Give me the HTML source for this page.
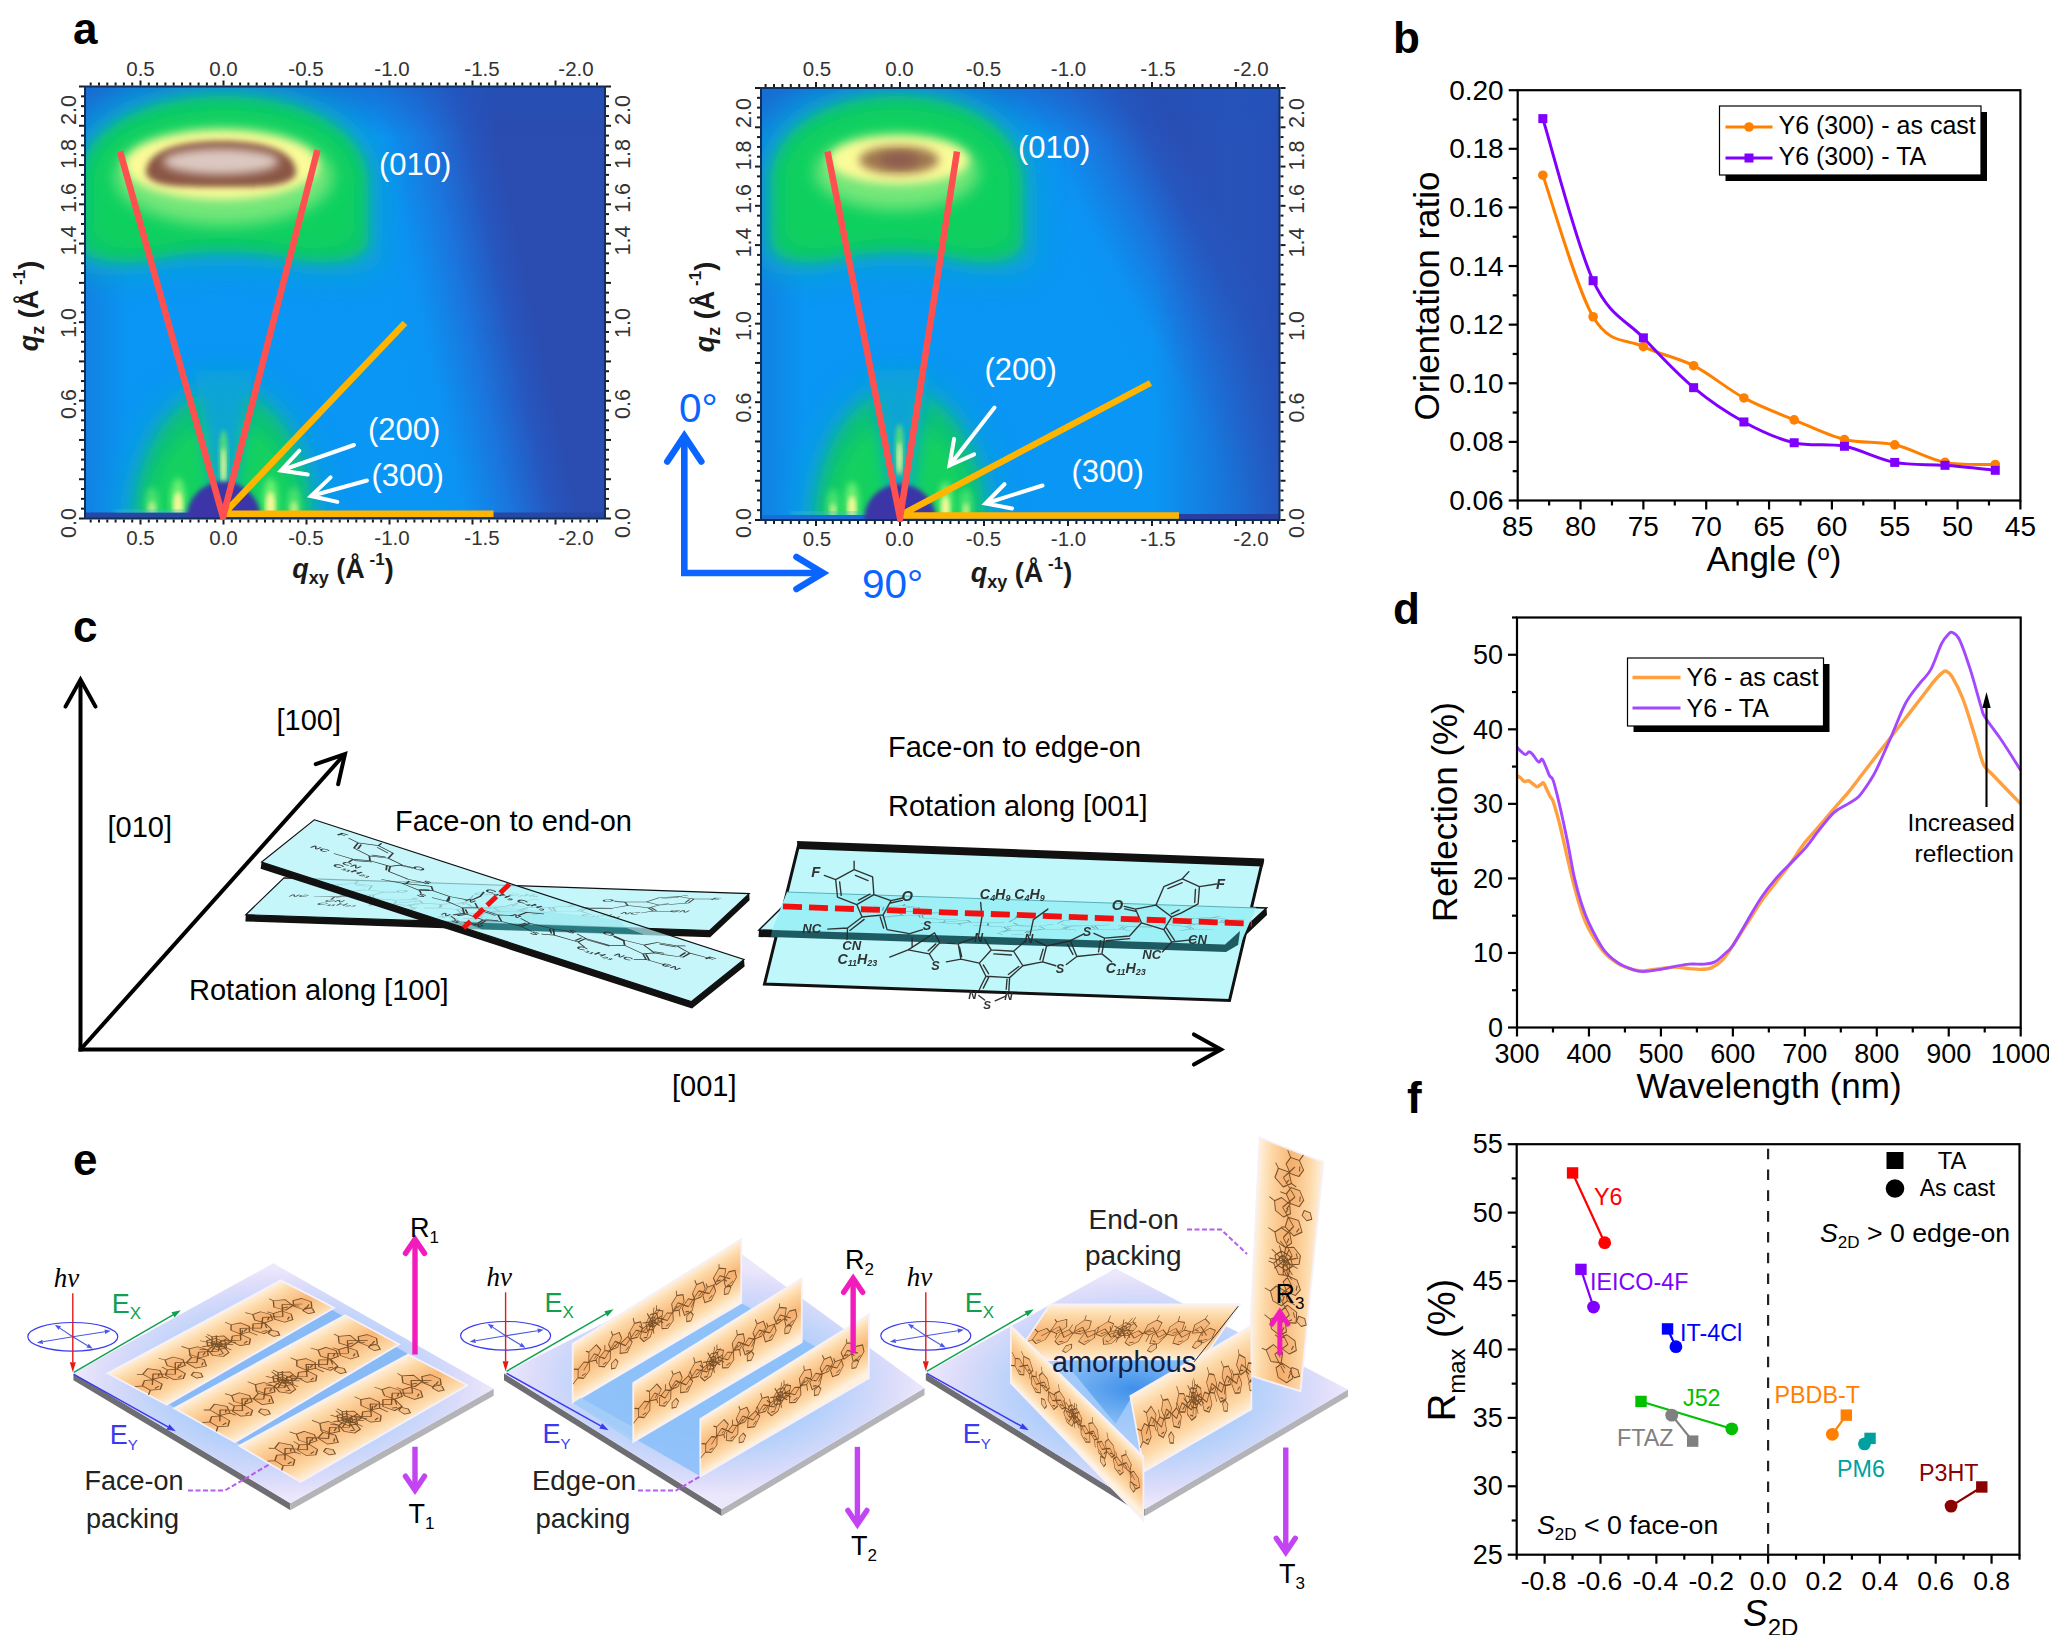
<!DOCTYPE html>
<html lang="en"><head><meta charset="utf-8"><title>Figure</title>
<style>
html,body{margin:0;padding:0;background:#fff;}
svg{display:block;font-family:"Liberation Sans", sans-serif;}
</style></head><body>
<svg width="2049" height="1635" viewBox="0 0 2049 1635">
<rect width="2049" height="1635" fill="#fff"/>
<g id="panel-a">
<defs>
<filter id="b2" x="-20%" y="-20%" width="140%" height="140%"><feGaussianBlur stdDeviation="2"/></filter>
<filter id="b3" x="-30%" y="-30%" width="160%" height="160%"><feGaussianBlur stdDeviation="3.2"/></filter>
<filter id="b5" x="-30%" y="-30%" width="160%" height="160%"><feGaussianBlur stdDeviation="5"/></filter>
<filter id="b6" x="-30%" y="-30%" width="160%" height="160%"><feGaussianBlur stdDeviation="6.5"/></filter>
<filter id="b8" x="-30%" y="-30%" width="160%" height="160%"><feGaussianBlur stdDeviation="8"/></filter>
<filter id="b14" x="-40%" y="-40%" width="180%" height="180%"><feGaussianBlur stdDeviation="14"/></filter>
<filter id="b22" x="-50%" y="-50%" width="200%" height="200%"><feGaussianBlur stdDeviation="22"/></filter>
<filter id="b40" x="-60%" y="-60%" width="220%" height="220%"><feGaussianBlur stdDeviation="40"/></filter>
<linearGradient id="hmL" x1="0" x2="1" y1="0" y2="0">
<stop offset="0" stop-color="#1a70d4"/><stop offset="0.06" stop-color="#1384e6"/><stop offset="0.16" stop-color="#0a94f2"/>
<stop offset="0.5" stop-color="#0a96f4"/><stop offset="0.62" stop-color="#168ae8"/><stop offset="0.75" stop-color="#2270d2"/>
<stop offset="0.88" stop-color="#2a52b6"/><stop offset="1" stop-color="#2c46aa"/></linearGradient>
<linearGradient id="hmR" x1="0" x2="1" y1="0" y2="0">
<stop offset="0" stop-color="#1a70d4"/><stop offset="0.06" stop-color="#1384e6"/><stop offset="0.16" stop-color="#0a94f2"/>
<stop offset="0.5" stop-color="#0a96f4"/><stop offset="0.64" stop-color="#168ae8"/><stop offset="0.78" stop-color="#2270d2"/>
<stop offset="0.9" stop-color="#2a52b6"/><stop offset="1" stop-color="#2c46aa"/></linearGradient>
<linearGradient id="topdark" x1="0" x2="0" y1="0" y2="1">
<stop offset="0" stop-color="#2054bc" stop-opacity="0.5"/><stop offset="1" stop-color="#2050b8" stop-opacity="0"/></linearGradient>
</defs>
<linearGradient id="hmg1" gradientUnits="userSpaceOnUse" x1="394.6" y1="318" x2="531.4" y2="288"><stop offset="0" stop-color="#0a96f4"/><stop offset="0.2" stop-color="#0c92f2"/><stop offset="0.5" stop-color="#1a76de"/><stop offset="0.8" stop-color="#2656be"/><stop offset="1" stop-color="#2b4cb0"/></linearGradient>
<linearGradient id="hml1" gradientUnits="userSpaceOnUse" x1="85" y1="0" x2="130" y2="0"><stop offset="0" stop-color="#1c68cc" stop-opacity="0.45"/><stop offset="1" stop-color="#1c68cc" stop-opacity="0"/></linearGradient>
<clipPath id="hmclip1"><rect x="85" y="86.5" width="520" height="432"/></clipPath>
<g clip-path="url(#hmclip1)">
<rect x="85" y="86.5" width="520" height="432" fill="url(#hmg1)"/>
<rect x="85" y="86.5" width="60" height="432" fill="url(#hml1)"/>
<rect x="85" y="86.5" width="520" height="50" fill="url(#topdark)"/>
<path d="M66,268 L66,182.88 C66,124.37 132.36,82 224,82 C315.64,82 382,124.37 382,182.88 L382,254 C382,272 356.72,276 331.44,276 C299.84,276 287.2,266 224,266 C160.8,266 148.16,276 116.56,276 C91.28,276 66,272 66,254Z" fill="#08a6cc" opacity="0.9" filter="url(#b14)"/>
<path d="M80,254 L80,182.32 C80,132.25 140.48,96 224,96 C307.52,96 368,132.25 368,182.32 L368,240 C368,258 344.96,262 321.92,262 C293.12,262 281.6,252 224,252 C166.4,252 154.88,262 126.08,262 C103.04,262 80,258 80,240Z" fill="#0cc86a" opacity="1" filter="url(#b6)"/>
<path d="M94,240 L94,181.76 C94,140.14 148.6,110 224,110 C299.4,110 354,140.14 354,181.76 L354,226 C354,244 333.2,248 312.4,248 C286.4,248 276,238 224,238 C172,238 161.6,248 135.6,248 C114.8,248 94,244 94,226Z" fill="#10d05e" opacity="1" filter="url(#b8)"/>
<ellipse cx="224" cy="177" rx="109" ry="48.5" fill="#7ce87c" opacity="0.95" filter="url(#b8)"/>
<ellipse cx="221.5" cy="165" rx="97" ry="34.5" fill="#fbfb98" filter="url(#b5)"/>
<path d="M146,174.35 C144.5,150.2 179.75,141 221,141 C262.25,141 297.5,150.2 296,174.35 C288.5,188.15 258.5,187 221,187 C183.5,187 153.5,188.15 146,174.35Z" fill="#8a5744" filter="url(#b3)"/>
<ellipse cx="221" cy="161.5" rx="58" ry="13" fill="#dcc8c0" filter="url(#b5)"/>
<ellipse cx="223.5" cy="528.5" rx="104" ry="154" fill="#08a6cc" opacity="0.8" filter="url(#b14)"/>
<ellipse cx="223.5" cy="528.5" rx="90" ry="138" fill="#10c470" opacity="0.95" filter="url(#b8)"/>
<ellipse cx="223.5" cy="528.5" rx="76" ry="108" fill="#14d45c" opacity="0.85" filter="url(#b8)"/>
<path d="M193.5,370.5 L253.5,370.5 L233.5,493.5 L213.5,493.5Z" fill="#0aa2dc" opacity="0.92" filter="url(#b8)"/>
<ellipse cx="178" cy="502" rx="7.5" ry="24" fill="#6cf070" opacity="1" filter="url(#b3)"/>
<ellipse cx="178" cy="506" rx="4.5" ry="14" fill="#f6f898" opacity="1" filter="url(#b2)"/>
<ellipse cx="270.5" cy="502" rx="7.5" ry="24" fill="#6cf070" opacity="1" filter="url(#b3)"/>
<ellipse cx="270.5" cy="506" rx="4.5" ry="14" fill="#f6f898" opacity="1" filter="url(#b2)"/>
<ellipse cx="152" cy="506" rx="7" ry="19" fill="#6cf070" opacity="0.6" filter="url(#b3)"/>
<ellipse cx="152" cy="510" rx="4" ry="9" fill="#f6f898" opacity="0.6" filter="url(#b2)"/>
<ellipse cx="294" cy="506" rx="7" ry="19" fill="#6cf070" opacity="0.6" filter="url(#b3)"/>
<ellipse cx="294" cy="510" rx="4" ry="9" fill="#f6f898" opacity="0.6" filter="url(#b2)"/>
<ellipse cx="223.5" cy="458" rx="4.5" ry="28" fill="#58e070" opacity="0.9" filter="url(#b2)"/>
<ellipse cx="223.5" cy="466" rx="2.2" ry="18" fill="#f0f4b0" filter="url(#b2)"/>
<rect x="85" y="512.5" width="520" height="7" fill="#2846a4"/>
<rect x="115" y="510" width="73.5" height="2.5" fill="#40c0d0" opacity="0.8" filter="url(#b2)"/>
<circle cx="223.5" cy="518.5" r="37" fill="#3a36a8" filter="url(#b2)"/>
</g>
<rect x="85" y="86.5" width="520" height="432" fill="none" stroke="#10305c" stroke-width="2"/>
<rect x="89.7" y="82.5" width="2" height="3" fill="#1c1c1c"/>
<rect x="89.7" y="519.5" width="2" height="3" fill="#1c1c1c"/>
<rect x="98" y="82.5" width="2" height="3" fill="#1c1c1c"/>
<rect x="98" y="519.5" width="2" height="3" fill="#1c1c1c"/>
<rect x="106.3" y="82.5" width="2" height="3" fill="#1c1c1c"/>
<rect x="106.3" y="519.5" width="2" height="3" fill="#1c1c1c"/>
<rect x="114.6" y="82.5" width="2" height="3" fill="#1c1c1c"/>
<rect x="114.6" y="519.5" width="2" height="3" fill="#1c1c1c"/>
<rect x="122.9" y="82.5" width="2" height="3" fill="#1c1c1c"/>
<rect x="122.9" y="519.5" width="2" height="3" fill="#1c1c1c"/>
<rect x="131.2" y="82.5" width="2" height="3" fill="#1c1c1c"/>
<rect x="131.2" y="519.5" width="2" height="3" fill="#1c1c1c"/>
<rect x="139.5" y="80.5" width="2" height="5" fill="#1c1c1c"/>
<rect x="139.5" y="519.5" width="2" height="5" fill="#1c1c1c"/>
<rect x="147.8" y="82.5" width="2" height="3" fill="#1c1c1c"/>
<rect x="147.8" y="519.5" width="2" height="3" fill="#1c1c1c"/>
<rect x="156.1" y="82.5" width="2" height="3" fill="#1c1c1c"/>
<rect x="156.1" y="519.5" width="2" height="3" fill="#1c1c1c"/>
<rect x="164.4" y="82.5" width="2" height="3" fill="#1c1c1c"/>
<rect x="164.4" y="519.5" width="2" height="3" fill="#1c1c1c"/>
<rect x="172.7" y="82.5" width="2" height="3" fill="#1c1c1c"/>
<rect x="172.7" y="519.5" width="2" height="3" fill="#1c1c1c"/>
<rect x="181" y="82.5" width="2" height="3" fill="#1c1c1c"/>
<rect x="181" y="519.5" width="2" height="3" fill="#1c1c1c"/>
<rect x="189.3" y="82.5" width="2" height="3" fill="#1c1c1c"/>
<rect x="189.3" y="519.5" width="2" height="3" fill="#1c1c1c"/>
<rect x="197.6" y="82.5" width="2" height="3" fill="#1c1c1c"/>
<rect x="197.6" y="519.5" width="2" height="3" fill="#1c1c1c"/>
<rect x="205.9" y="82.5" width="2" height="3" fill="#1c1c1c"/>
<rect x="205.9" y="519.5" width="2" height="3" fill="#1c1c1c"/>
<rect x="214.2" y="82.5" width="2" height="3" fill="#1c1c1c"/>
<rect x="214.2" y="519.5" width="2" height="3" fill="#1c1c1c"/>
<rect x="222.5" y="80.5" width="2" height="5" fill="#1c1c1c"/>
<rect x="222.5" y="519.5" width="2" height="5" fill="#1c1c1c"/>
<rect x="230.8" y="82.5" width="2" height="3" fill="#1c1c1c"/>
<rect x="230.8" y="519.5" width="2" height="3" fill="#1c1c1c"/>
<rect x="239.1" y="82.5" width="2" height="3" fill="#1c1c1c"/>
<rect x="239.1" y="519.5" width="2" height="3" fill="#1c1c1c"/>
<rect x="247.4" y="82.5" width="2" height="3" fill="#1c1c1c"/>
<rect x="247.4" y="519.5" width="2" height="3" fill="#1c1c1c"/>
<rect x="255.7" y="82.5" width="2" height="3" fill="#1c1c1c"/>
<rect x="255.7" y="519.5" width="2" height="3" fill="#1c1c1c"/>
<rect x="264" y="82.5" width="2" height="3" fill="#1c1c1c"/>
<rect x="264" y="519.5" width="2" height="3" fill="#1c1c1c"/>
<rect x="272.3" y="82.5" width="2" height="3" fill="#1c1c1c"/>
<rect x="272.3" y="519.5" width="2" height="3" fill="#1c1c1c"/>
<rect x="280.6" y="82.5" width="2" height="3" fill="#1c1c1c"/>
<rect x="280.6" y="519.5" width="2" height="3" fill="#1c1c1c"/>
<rect x="288.9" y="82.5" width="2" height="3" fill="#1c1c1c"/>
<rect x="288.9" y="519.5" width="2" height="3" fill="#1c1c1c"/>
<rect x="297.2" y="82.5" width="2" height="3" fill="#1c1c1c"/>
<rect x="297.2" y="519.5" width="2" height="3" fill="#1c1c1c"/>
<rect x="305.5" y="80.5" width="2" height="5" fill="#1c1c1c"/>
<rect x="305.5" y="519.5" width="2" height="5" fill="#1c1c1c"/>
<rect x="313.8" y="82.5" width="2" height="3" fill="#1c1c1c"/>
<rect x="313.8" y="519.5" width="2" height="3" fill="#1c1c1c"/>
<rect x="322.1" y="82.5" width="2" height="3" fill="#1c1c1c"/>
<rect x="322.1" y="519.5" width="2" height="3" fill="#1c1c1c"/>
<rect x="330.4" y="82.5" width="2" height="3" fill="#1c1c1c"/>
<rect x="330.4" y="519.5" width="2" height="3" fill="#1c1c1c"/>
<rect x="338.7" y="82.5" width="2" height="3" fill="#1c1c1c"/>
<rect x="338.7" y="519.5" width="2" height="3" fill="#1c1c1c"/>
<rect x="347" y="82.5" width="2" height="3" fill="#1c1c1c"/>
<rect x="347" y="519.5" width="2" height="3" fill="#1c1c1c"/>
<rect x="355.3" y="82.5" width="2" height="3" fill="#1c1c1c"/>
<rect x="355.3" y="519.5" width="2" height="3" fill="#1c1c1c"/>
<rect x="363.6" y="82.5" width="2" height="3" fill="#1c1c1c"/>
<rect x="363.6" y="519.5" width="2" height="3" fill="#1c1c1c"/>
<rect x="371.9" y="82.5" width="2" height="3" fill="#1c1c1c"/>
<rect x="371.9" y="519.5" width="2" height="3" fill="#1c1c1c"/>
<rect x="380.2" y="82.5" width="2" height="3" fill="#1c1c1c"/>
<rect x="380.2" y="519.5" width="2" height="3" fill="#1c1c1c"/>
<rect x="388.5" y="80.5" width="2" height="5" fill="#1c1c1c"/>
<rect x="388.5" y="519.5" width="2" height="5" fill="#1c1c1c"/>
<rect x="396.8" y="82.5" width="2" height="3" fill="#1c1c1c"/>
<rect x="396.8" y="519.5" width="2" height="3" fill="#1c1c1c"/>
<rect x="405.1" y="82.5" width="2" height="3" fill="#1c1c1c"/>
<rect x="405.1" y="519.5" width="2" height="3" fill="#1c1c1c"/>
<rect x="413.4" y="82.5" width="2" height="3" fill="#1c1c1c"/>
<rect x="413.4" y="519.5" width="2" height="3" fill="#1c1c1c"/>
<rect x="421.7" y="82.5" width="2" height="3" fill="#1c1c1c"/>
<rect x="421.7" y="519.5" width="2" height="3" fill="#1c1c1c"/>
<rect x="430" y="82.5" width="2" height="3" fill="#1c1c1c"/>
<rect x="430" y="519.5" width="2" height="3" fill="#1c1c1c"/>
<rect x="438.3" y="82.5" width="2" height="3" fill="#1c1c1c"/>
<rect x="438.3" y="519.5" width="2" height="3" fill="#1c1c1c"/>
<rect x="446.6" y="82.5" width="2" height="3" fill="#1c1c1c"/>
<rect x="446.6" y="519.5" width="2" height="3" fill="#1c1c1c"/>
<rect x="454.9" y="82.5" width="2" height="3" fill="#1c1c1c"/>
<rect x="454.9" y="519.5" width="2" height="3" fill="#1c1c1c"/>
<rect x="463.2" y="82.5" width="2" height="3" fill="#1c1c1c"/>
<rect x="463.2" y="519.5" width="2" height="3" fill="#1c1c1c"/>
<rect x="471.5" y="80.5" width="2" height="5" fill="#1c1c1c"/>
<rect x="471.5" y="519.5" width="2" height="5" fill="#1c1c1c"/>
<rect x="479.8" y="82.5" width="2" height="3" fill="#1c1c1c"/>
<rect x="479.8" y="519.5" width="2" height="3" fill="#1c1c1c"/>
<rect x="488.1" y="82.5" width="2" height="3" fill="#1c1c1c"/>
<rect x="488.1" y="519.5" width="2" height="3" fill="#1c1c1c"/>
<rect x="496.4" y="82.5" width="2" height="3" fill="#1c1c1c"/>
<rect x="496.4" y="519.5" width="2" height="3" fill="#1c1c1c"/>
<rect x="504.7" y="82.5" width="2" height="3" fill="#1c1c1c"/>
<rect x="504.7" y="519.5" width="2" height="3" fill="#1c1c1c"/>
<rect x="513" y="82.5" width="2" height="3" fill="#1c1c1c"/>
<rect x="513" y="519.5" width="2" height="3" fill="#1c1c1c"/>
<rect x="521.3" y="82.5" width="2" height="3" fill="#1c1c1c"/>
<rect x="521.3" y="519.5" width="2" height="3" fill="#1c1c1c"/>
<rect x="529.6" y="82.5" width="2" height="3" fill="#1c1c1c"/>
<rect x="529.6" y="519.5" width="2" height="3" fill="#1c1c1c"/>
<rect x="537.9" y="82.5" width="2" height="3" fill="#1c1c1c"/>
<rect x="537.9" y="519.5" width="2" height="3" fill="#1c1c1c"/>
<rect x="546.2" y="82.5" width="2" height="3" fill="#1c1c1c"/>
<rect x="546.2" y="519.5" width="2" height="3" fill="#1c1c1c"/>
<rect x="554.5" y="80.5" width="2" height="5" fill="#1c1c1c"/>
<rect x="554.5" y="519.5" width="2" height="5" fill="#1c1c1c"/>
<rect x="562.8" y="82.5" width="2" height="3" fill="#1c1c1c"/>
<rect x="562.8" y="519.5" width="2" height="3" fill="#1c1c1c"/>
<rect x="571.1" y="82.5" width="2" height="3" fill="#1c1c1c"/>
<rect x="571.1" y="519.5" width="2" height="3" fill="#1c1c1c"/>
<rect x="579.4" y="82.5" width="2" height="3" fill="#1c1c1c"/>
<rect x="579.4" y="519.5" width="2" height="3" fill="#1c1c1c"/>
<rect x="587.7" y="82.5" width="2" height="3" fill="#1c1c1c"/>
<rect x="587.7" y="519.5" width="2" height="3" fill="#1c1c1c"/>
<rect x="596" y="82.5" width="2" height="3" fill="#1c1c1c"/>
<rect x="596" y="519.5" width="2" height="3" fill="#1c1c1c"/>
<rect x="79" y="517.5" width="5" height="2" fill="#1c1c1c"/>
<rect x="606" y="517.5" width="5" height="2" fill="#1c1c1c"/>
<rect x="81" y="507.68" width="3" height="2" fill="#1c1c1c"/>
<rect x="606" y="507.68" width="3" height="2" fill="#1c1c1c"/>
<rect x="81" y="497.86" width="3" height="2" fill="#1c1c1c"/>
<rect x="606" y="497.86" width="3" height="2" fill="#1c1c1c"/>
<rect x="81" y="488.05" width="3" height="2" fill="#1c1c1c"/>
<rect x="606" y="488.05" width="3" height="2" fill="#1c1c1c"/>
<rect x="79" y="478.23" width="5" height="2" fill="#1c1c1c"/>
<rect x="606" y="478.23" width="5" height="2" fill="#1c1c1c"/>
<rect x="81" y="468.41" width="3" height="2" fill="#1c1c1c"/>
<rect x="606" y="468.41" width="3" height="2" fill="#1c1c1c"/>
<rect x="81" y="458.59" width="3" height="2" fill="#1c1c1c"/>
<rect x="606" y="458.59" width="3" height="2" fill="#1c1c1c"/>
<rect x="81" y="448.77" width="3" height="2" fill="#1c1c1c"/>
<rect x="606" y="448.77" width="3" height="2" fill="#1c1c1c"/>
<rect x="79" y="438.95" width="5" height="2" fill="#1c1c1c"/>
<rect x="606" y="438.95" width="5" height="2" fill="#1c1c1c"/>
<rect x="81" y="429.14" width="3" height="2" fill="#1c1c1c"/>
<rect x="606" y="429.14" width="3" height="2" fill="#1c1c1c"/>
<rect x="81" y="419.32" width="3" height="2" fill="#1c1c1c"/>
<rect x="606" y="419.32" width="3" height="2" fill="#1c1c1c"/>
<rect x="81" y="409.5" width="3" height="2" fill="#1c1c1c"/>
<rect x="606" y="409.5" width="3" height="2" fill="#1c1c1c"/>
<rect x="79" y="399.68" width="5" height="2" fill="#1c1c1c"/>
<rect x="606" y="399.68" width="5" height="2" fill="#1c1c1c"/>
<rect x="81" y="389.86" width="3" height="2" fill="#1c1c1c"/>
<rect x="606" y="389.86" width="3" height="2" fill="#1c1c1c"/>
<rect x="81" y="380.05" width="3" height="2" fill="#1c1c1c"/>
<rect x="606" y="380.05" width="3" height="2" fill="#1c1c1c"/>
<rect x="81" y="370.23" width="3" height="2" fill="#1c1c1c"/>
<rect x="606" y="370.23" width="3" height="2" fill="#1c1c1c"/>
<rect x="79" y="360.41" width="5" height="2" fill="#1c1c1c"/>
<rect x="606" y="360.41" width="5" height="2" fill="#1c1c1c"/>
<rect x="81" y="350.59" width="3" height="2" fill="#1c1c1c"/>
<rect x="606" y="350.59" width="3" height="2" fill="#1c1c1c"/>
<rect x="81" y="340.77" width="3" height="2" fill="#1c1c1c"/>
<rect x="606" y="340.77" width="3" height="2" fill="#1c1c1c"/>
<rect x="81" y="330.95" width="3" height="2" fill="#1c1c1c"/>
<rect x="606" y="330.95" width="3" height="2" fill="#1c1c1c"/>
<rect x="79" y="321.14" width="5" height="2" fill="#1c1c1c"/>
<rect x="606" y="321.14" width="5" height="2" fill="#1c1c1c"/>
<rect x="81" y="311.32" width="3" height="2" fill="#1c1c1c"/>
<rect x="606" y="311.32" width="3" height="2" fill="#1c1c1c"/>
<rect x="81" y="301.5" width="3" height="2" fill="#1c1c1c"/>
<rect x="606" y="301.5" width="3" height="2" fill="#1c1c1c"/>
<rect x="81" y="291.68" width="3" height="2" fill="#1c1c1c"/>
<rect x="606" y="291.68" width="3" height="2" fill="#1c1c1c"/>
<rect x="79" y="281.86" width="5" height="2" fill="#1c1c1c"/>
<rect x="606" y="281.86" width="5" height="2" fill="#1c1c1c"/>
<rect x="81" y="272.05" width="3" height="2" fill="#1c1c1c"/>
<rect x="606" y="272.05" width="3" height="2" fill="#1c1c1c"/>
<rect x="81" y="262.23" width="3" height="2" fill="#1c1c1c"/>
<rect x="606" y="262.23" width="3" height="2" fill="#1c1c1c"/>
<rect x="81" y="252.41" width="3" height="2" fill="#1c1c1c"/>
<rect x="606" y="252.41" width="3" height="2" fill="#1c1c1c"/>
<rect x="79" y="242.59" width="5" height="2" fill="#1c1c1c"/>
<rect x="606" y="242.59" width="5" height="2" fill="#1c1c1c"/>
<rect x="81" y="232.77" width="3" height="2" fill="#1c1c1c"/>
<rect x="606" y="232.77" width="3" height="2" fill="#1c1c1c"/>
<rect x="81" y="222.95" width="3" height="2" fill="#1c1c1c"/>
<rect x="606" y="222.95" width="3" height="2" fill="#1c1c1c"/>
<rect x="81" y="213.14" width="3" height="2" fill="#1c1c1c"/>
<rect x="606" y="213.14" width="3" height="2" fill="#1c1c1c"/>
<rect x="79" y="203.32" width="5" height="2" fill="#1c1c1c"/>
<rect x="606" y="203.32" width="5" height="2" fill="#1c1c1c"/>
<rect x="81" y="193.5" width="3" height="2" fill="#1c1c1c"/>
<rect x="606" y="193.5" width="3" height="2" fill="#1c1c1c"/>
<rect x="81" y="183.68" width="3" height="2" fill="#1c1c1c"/>
<rect x="606" y="183.68" width="3" height="2" fill="#1c1c1c"/>
<rect x="81" y="173.86" width="3" height="2" fill="#1c1c1c"/>
<rect x="606" y="173.86" width="3" height="2" fill="#1c1c1c"/>
<rect x="79" y="164.05" width="5" height="2" fill="#1c1c1c"/>
<rect x="606" y="164.05" width="5" height="2" fill="#1c1c1c"/>
<rect x="81" y="154.23" width="3" height="2" fill="#1c1c1c"/>
<rect x="606" y="154.23" width="3" height="2" fill="#1c1c1c"/>
<rect x="81" y="144.41" width="3" height="2" fill="#1c1c1c"/>
<rect x="606" y="144.41" width="3" height="2" fill="#1c1c1c"/>
<rect x="81" y="134.59" width="3" height="2" fill="#1c1c1c"/>
<rect x="606" y="134.59" width="3" height="2" fill="#1c1c1c"/>
<rect x="79" y="124.77" width="5" height="2" fill="#1c1c1c"/>
<rect x="606" y="124.77" width="5" height="2" fill="#1c1c1c"/>
<rect x="81" y="114.95" width="3" height="2" fill="#1c1c1c"/>
<rect x="606" y="114.95" width="3" height="2" fill="#1c1c1c"/>
<rect x="81" y="105.14" width="3" height="2" fill="#1c1c1c"/>
<rect x="606" y="105.14" width="3" height="2" fill="#1c1c1c"/>
<rect x="81" y="95.32" width="3" height="2" fill="#1c1c1c"/>
<rect x="606" y="95.32" width="3" height="2" fill="#1c1c1c"/>
<rect x="79" y="85.5" width="5" height="2" fill="#1c1c1c"/>
<rect x="606" y="85.5" width="5" height="2" fill="#1c1c1c"/>
<text x="140.5" y="76" font-size="20.5" text-anchor="middle" fill="#333">0.5</text>
<text x="140.5" y="545" font-size="20.5" text-anchor="middle" fill="#333">0.5</text>
<text x="223.5" y="76" font-size="20.5" text-anchor="middle" fill="#333">0.0</text>
<text x="223.5" y="545" font-size="20.5" text-anchor="middle" fill="#333">0.0</text>
<text x="306" y="76" font-size="20.5" text-anchor="middle" fill="#333">-0.5</text>
<text x="306" y="545" font-size="20.5" text-anchor="middle" fill="#333">-0.5</text>
<text x="392" y="76" font-size="20.5" text-anchor="middle" fill="#333">-1.0</text>
<text x="392" y="545" font-size="20.5" text-anchor="middle" fill="#333">-1.0</text>
<text x="482" y="76" font-size="20.5" text-anchor="middle" fill="#333">-1.5</text>
<text x="482" y="545" font-size="20.5" text-anchor="middle" fill="#333">-1.5</text>
<text x="576" y="76" font-size="20.5" text-anchor="middle" fill="#333">-2.0</text>
<text x="576" y="545" font-size="20.5" text-anchor="middle" fill="#333">-2.0</text>
<text x="75.5" y="523" font-size="21.5" text-anchor="middle" fill="#333" transform="rotate(-90 75.5 523)">0.0</text>
<text x="630" y="523" font-size="21.5" text-anchor="middle" fill="#333" transform="rotate(-90 630 523)">0.0</text>
<text x="75.5" y="404" font-size="21.5" text-anchor="middle" fill="#333" transform="rotate(-90 75.5 404)">0.6</text>
<text x="630" y="404" font-size="21.5" text-anchor="middle" fill="#333" transform="rotate(-90 630 404)">0.6</text>
<text x="75.5" y="323" font-size="21.5" text-anchor="middle" fill="#333" transform="rotate(-90 75.5 323)">1.0</text>
<text x="630" y="323" font-size="21.5" text-anchor="middle" fill="#333" transform="rotate(-90 630 323)">1.0</text>
<text x="75.5" y="240.5" font-size="21.5" text-anchor="middle" fill="#333" transform="rotate(-90 75.5 240.5)">1.4</text>
<text x="630" y="240.5" font-size="21.5" text-anchor="middle" fill="#333" transform="rotate(-90 630 240.5)">1.4</text>
<text x="75.5" y="198" font-size="21.5" text-anchor="middle" fill="#333" transform="rotate(-90 75.5 198)">1.6</text>
<text x="630" y="198" font-size="21.5" text-anchor="middle" fill="#333" transform="rotate(-90 630 198)">1.6</text>
<text x="75.5" y="154" font-size="21.5" text-anchor="middle" fill="#333" transform="rotate(-90 75.5 154)">1.8</text>
<text x="630" y="154" font-size="21.5" text-anchor="middle" fill="#333" transform="rotate(-90 630 154)">1.8</text>
<text x="75.5" y="110" font-size="21.5" text-anchor="middle" fill="#333" transform="rotate(-90 75.5 110)">2.0</text>
<text x="630" y="110" font-size="21.5" text-anchor="middle" fill="#333" transform="rotate(-90 630 110)">2.0</text>
<text x="38" y="306" font-size="27" text-anchor="middle" fill="#1a1a1a" font-weight="bold" transform="rotate(-90 38 306)"><tspan font-style="italic">q</tspan><tspan dy="6" font-size="18">z</tspan><tspan dy="-6"> (Å</tspan><tspan dy="-13" font-size="17"> -1</tspan><tspan dy="13">)</tspan></text>
<text x="343" y="578" font-size="27" text-anchor="middle" fill="#1a1a1a" font-weight="bold"><tspan font-style="italic">q</tspan><tspan dy="6" font-size="18">xy</tspan><tspan dy="-6"> (Å</tspan><tspan dy="-13" font-size="17"> -1</tspan><tspan dy="13">)</tspan></text>
<linearGradient id="hmg2" gradientUnits="userSpaceOnUse" x1="1097.2" y1="298.6" x2="1229.2" y2="227.2"><stop offset="0" stop-color="#0a96f4"/><stop offset="0.2" stop-color="#0c92f2"/><stop offset="0.5" stop-color="#1a76de"/><stop offset="0.8" stop-color="#2656be"/><stop offset="1" stop-color="#2b4cb0"/></linearGradient>
<linearGradient id="hml2" gradientUnits="userSpaceOnUse" x1="761" y1="0" x2="806" y2="0"><stop offset="0" stop-color="#1c68cc" stop-opacity="0.45"/><stop offset="1" stop-color="#1c68cc" stop-opacity="0"/></linearGradient>
<clipPath id="hmclip2"><rect x="761" y="88" width="518.5" height="432"/></clipPath>
<g clip-path="url(#hmclip2)">
<rect x="761" y="88" width="518.5" height="432" fill="url(#hmg2)"/>
<rect x="761" y="88" width="60" height="432" fill="url(#hml2)"/>
<linearGradient id="hmr2" gradientUnits="userSpaceOnUse" x1="1154.5" y1="0" x2="1279.5" y2="0"><stop offset="0" stop-color="#2458c0" stop-opacity="0"/><stop offset="0.6" stop-color="#2458c0" stop-opacity="0.55"/><stop offset="1" stop-color="#2650b8" stop-opacity="0.85"/></linearGradient>
<rect x="1154.5" y="88" width="125" height="432" fill="url(#hmr2)"/>
<rect x="761" y="88" width="518.5" height="50" fill="url(#topdark)"/>
<path d="M757,268 L757,182.88 C757,124.37 815.8,82 897,82 C978.2,82 1037,124.37 1037,182.88 L1037,254 C1037,272 1014.6,276 992.2,276 C964.2,276 953,266 897,266 C841,266 829.8,276 801.8,276 C779.4,276 757,272 757,254Z" fill="#08a6cc" opacity="0.9" filter="url(#b14)"/>
<path d="M771,254 L771,182.32 C771,132.25 823.92,96 897,96 C970.08,96 1023,132.25 1023,182.32 L1023,240 C1023,258 1002.84,262 982.68,262 C957.48,262 947.4,252 897,252 C846.6,252 836.52,262 811.32,262 C791.16,262 771,258 771,240Z" fill="#0cc86a" opacity="1" filter="url(#b6)"/>
<path d="M785,240 L785,181.76 C785,140.14 832.04,110 897,110 C961.96,110 1009,140.14 1009,181.76 L1009,226 C1009,244 991.08,248 973.16,248 C950.76,248 941.8,238 897,238 C852.2,238 843.24,248 820.84,248 C802.92,248 785,244 785,226Z" fill="#10d05e" opacity="1" filter="url(#b8)"/>
<ellipse cx="897" cy="172" rx="82" ry="38" fill="#7ce87c" opacity="0.95" filter="url(#b8)"/>
<ellipse cx="899" cy="160" rx="70" ry="24" fill="#fbfb98" filter="url(#b5)"/>
<ellipse cx="899" cy="160" rx="40" ry="14" fill="#a07850" filter="url(#b5)"/>
<ellipse cx="899" cy="160" rx="20" ry="7" fill="#8c5a50" filter="url(#b5)"/>
<ellipse cx="900" cy="530" rx="100" ry="156" fill="#08a6cc" opacity="0.8" filter="url(#b14)"/>
<ellipse cx="900" cy="530" rx="86" ry="140" fill="#10c470" opacity="0.95" filter="url(#b8)"/>
<ellipse cx="900" cy="530" rx="72" ry="110" fill="#14d45c" opacity="0.85" filter="url(#b8)"/>
<path d="M870,370 L930,370 L910,495 L890,495Z" fill="#0aa2dc" opacity="0.92" filter="url(#b8)"/>
<ellipse cx="852" cy="504" rx="7" ry="22" fill="#6cf070" opacity="1" filter="url(#b3)"/>
<ellipse cx="852" cy="508" rx="4" ry="12" fill="#f6f898" opacity="1" filter="url(#b2)"/>
<ellipse cx="945.5" cy="504" rx="7" ry="22" fill="#6cf070" opacity="1" filter="url(#b3)"/>
<ellipse cx="945.5" cy="508" rx="4" ry="12" fill="#f6f898" opacity="1" filter="url(#b2)"/>
<ellipse cx="833" cy="507" rx="6.5" ry="18" fill="#6cf070" opacity="0.6" filter="url(#b3)"/>
<ellipse cx="833" cy="511" rx="3.5" ry="8" fill="#f6f898" opacity="0.6" filter="url(#b2)"/>
<ellipse cx="966" cy="507" rx="6.5" ry="18" fill="#6cf070" opacity="0.6" filter="url(#b3)"/>
<ellipse cx="966" cy="511" rx="3.5" ry="8" fill="#f6f898" opacity="0.6" filter="url(#b2)"/>
<ellipse cx="899.5" cy="450" rx="4.5" ry="26" fill="#58e070" opacity="0.9" filter="url(#b2)"/>
<ellipse cx="899.5" cy="458" rx="2.2" ry="16" fill="#f0f4b0" filter="url(#b2)"/>
<rect x="761" y="515" width="518.5" height="6" fill="#1a6cd6"/>
<rect x="1178" y="514" width="101.5" height="7" fill="#2a3ea2"/>
<rect x="791" y="511.5" width="74" height="2.5" fill="#40c0d0" opacity="0.8" filter="url(#b2)"/>
<circle cx="900" cy="520" r="36" fill="#3a36a8" filter="url(#b2)"/>
</g>
<rect x="761" y="88" width="518.5" height="432" fill="none" stroke="#10305c" stroke-width="2"/>
<rect x="764.6" y="84" width="2" height="3" fill="#1c1c1c"/>
<rect x="764.6" y="521" width="2" height="3" fill="#1c1c1c"/>
<rect x="773" y="84" width="2" height="3" fill="#1c1c1c"/>
<rect x="773" y="521" width="2" height="3" fill="#1c1c1c"/>
<rect x="781.4" y="84" width="2" height="3" fill="#1c1c1c"/>
<rect x="781.4" y="521" width="2" height="3" fill="#1c1c1c"/>
<rect x="789.8" y="84" width="2" height="3" fill="#1c1c1c"/>
<rect x="789.8" y="521" width="2" height="3" fill="#1c1c1c"/>
<rect x="798.2" y="84" width="2" height="3" fill="#1c1c1c"/>
<rect x="798.2" y="521" width="2" height="3" fill="#1c1c1c"/>
<rect x="806.6" y="84" width="2" height="3" fill="#1c1c1c"/>
<rect x="806.6" y="521" width="2" height="3" fill="#1c1c1c"/>
<rect x="815" y="82" width="2" height="5" fill="#1c1c1c"/>
<rect x="815" y="521" width="2" height="5" fill="#1c1c1c"/>
<rect x="823.4" y="84" width="2" height="3" fill="#1c1c1c"/>
<rect x="823.4" y="521" width="2" height="3" fill="#1c1c1c"/>
<rect x="831.8" y="84" width="2" height="3" fill="#1c1c1c"/>
<rect x="831.8" y="521" width="2" height="3" fill="#1c1c1c"/>
<rect x="840.2" y="84" width="2" height="3" fill="#1c1c1c"/>
<rect x="840.2" y="521" width="2" height="3" fill="#1c1c1c"/>
<rect x="848.6" y="84" width="2" height="3" fill="#1c1c1c"/>
<rect x="848.6" y="521" width="2" height="3" fill="#1c1c1c"/>
<rect x="857" y="84" width="2" height="3" fill="#1c1c1c"/>
<rect x="857" y="521" width="2" height="3" fill="#1c1c1c"/>
<rect x="865.4" y="84" width="2" height="3" fill="#1c1c1c"/>
<rect x="865.4" y="521" width="2" height="3" fill="#1c1c1c"/>
<rect x="873.8" y="84" width="2" height="3" fill="#1c1c1c"/>
<rect x="873.8" y="521" width="2" height="3" fill="#1c1c1c"/>
<rect x="882.2" y="84" width="2" height="3" fill="#1c1c1c"/>
<rect x="882.2" y="521" width="2" height="3" fill="#1c1c1c"/>
<rect x="890.6" y="84" width="2" height="3" fill="#1c1c1c"/>
<rect x="890.6" y="521" width="2" height="3" fill="#1c1c1c"/>
<rect x="899" y="82" width="2" height="5" fill="#1c1c1c"/>
<rect x="899" y="521" width="2" height="5" fill="#1c1c1c"/>
<rect x="907.4" y="84" width="2" height="3" fill="#1c1c1c"/>
<rect x="907.4" y="521" width="2" height="3" fill="#1c1c1c"/>
<rect x="915.8" y="84" width="2" height="3" fill="#1c1c1c"/>
<rect x="915.8" y="521" width="2" height="3" fill="#1c1c1c"/>
<rect x="924.2" y="84" width="2" height="3" fill="#1c1c1c"/>
<rect x="924.2" y="521" width="2" height="3" fill="#1c1c1c"/>
<rect x="932.6" y="84" width="2" height="3" fill="#1c1c1c"/>
<rect x="932.6" y="521" width="2" height="3" fill="#1c1c1c"/>
<rect x="941" y="84" width="2" height="3" fill="#1c1c1c"/>
<rect x="941" y="521" width="2" height="3" fill="#1c1c1c"/>
<rect x="949.4" y="84" width="2" height="3" fill="#1c1c1c"/>
<rect x="949.4" y="521" width="2" height="3" fill="#1c1c1c"/>
<rect x="957.8" y="84" width="2" height="3" fill="#1c1c1c"/>
<rect x="957.8" y="521" width="2" height="3" fill="#1c1c1c"/>
<rect x="966.2" y="84" width="2" height="3" fill="#1c1c1c"/>
<rect x="966.2" y="521" width="2" height="3" fill="#1c1c1c"/>
<rect x="974.6" y="84" width="2" height="3" fill="#1c1c1c"/>
<rect x="974.6" y="521" width="2" height="3" fill="#1c1c1c"/>
<rect x="983" y="82" width="2" height="5" fill="#1c1c1c"/>
<rect x="983" y="521" width="2" height="5" fill="#1c1c1c"/>
<rect x="991.4" y="84" width="2" height="3" fill="#1c1c1c"/>
<rect x="991.4" y="521" width="2" height="3" fill="#1c1c1c"/>
<rect x="999.8" y="84" width="2" height="3" fill="#1c1c1c"/>
<rect x="999.8" y="521" width="2" height="3" fill="#1c1c1c"/>
<rect x="1008.2" y="84" width="2" height="3" fill="#1c1c1c"/>
<rect x="1008.2" y="521" width="2" height="3" fill="#1c1c1c"/>
<rect x="1016.6" y="84" width="2" height="3" fill="#1c1c1c"/>
<rect x="1016.6" y="521" width="2" height="3" fill="#1c1c1c"/>
<rect x="1025" y="84" width="2" height="3" fill="#1c1c1c"/>
<rect x="1025" y="521" width="2" height="3" fill="#1c1c1c"/>
<rect x="1033.4" y="84" width="2" height="3" fill="#1c1c1c"/>
<rect x="1033.4" y="521" width="2" height="3" fill="#1c1c1c"/>
<rect x="1041.8" y="84" width="2" height="3" fill="#1c1c1c"/>
<rect x="1041.8" y="521" width="2" height="3" fill="#1c1c1c"/>
<rect x="1050.2" y="84" width="2" height="3" fill="#1c1c1c"/>
<rect x="1050.2" y="521" width="2" height="3" fill="#1c1c1c"/>
<rect x="1058.6" y="84" width="2" height="3" fill="#1c1c1c"/>
<rect x="1058.6" y="521" width="2" height="3" fill="#1c1c1c"/>
<rect x="1067" y="82" width="2" height="5" fill="#1c1c1c"/>
<rect x="1067" y="521" width="2" height="5" fill="#1c1c1c"/>
<rect x="1075.4" y="84" width="2" height="3" fill="#1c1c1c"/>
<rect x="1075.4" y="521" width="2" height="3" fill="#1c1c1c"/>
<rect x="1083.8" y="84" width="2" height="3" fill="#1c1c1c"/>
<rect x="1083.8" y="521" width="2" height="3" fill="#1c1c1c"/>
<rect x="1092.2" y="84" width="2" height="3" fill="#1c1c1c"/>
<rect x="1092.2" y="521" width="2" height="3" fill="#1c1c1c"/>
<rect x="1100.6" y="84" width="2" height="3" fill="#1c1c1c"/>
<rect x="1100.6" y="521" width="2" height="3" fill="#1c1c1c"/>
<rect x="1109" y="84" width="2" height="3" fill="#1c1c1c"/>
<rect x="1109" y="521" width="2" height="3" fill="#1c1c1c"/>
<rect x="1117.4" y="84" width="2" height="3" fill="#1c1c1c"/>
<rect x="1117.4" y="521" width="2" height="3" fill="#1c1c1c"/>
<rect x="1125.8" y="84" width="2" height="3" fill="#1c1c1c"/>
<rect x="1125.8" y="521" width="2" height="3" fill="#1c1c1c"/>
<rect x="1134.2" y="84" width="2" height="3" fill="#1c1c1c"/>
<rect x="1134.2" y="521" width="2" height="3" fill="#1c1c1c"/>
<rect x="1142.6" y="84" width="2" height="3" fill="#1c1c1c"/>
<rect x="1142.6" y="521" width="2" height="3" fill="#1c1c1c"/>
<rect x="1151" y="82" width="2" height="5" fill="#1c1c1c"/>
<rect x="1151" y="521" width="2" height="5" fill="#1c1c1c"/>
<rect x="1159.4" y="84" width="2" height="3" fill="#1c1c1c"/>
<rect x="1159.4" y="521" width="2" height="3" fill="#1c1c1c"/>
<rect x="1167.8" y="84" width="2" height="3" fill="#1c1c1c"/>
<rect x="1167.8" y="521" width="2" height="3" fill="#1c1c1c"/>
<rect x="1176.2" y="84" width="2" height="3" fill="#1c1c1c"/>
<rect x="1176.2" y="521" width="2" height="3" fill="#1c1c1c"/>
<rect x="1184.6" y="84" width="2" height="3" fill="#1c1c1c"/>
<rect x="1184.6" y="521" width="2" height="3" fill="#1c1c1c"/>
<rect x="1193" y="84" width="2" height="3" fill="#1c1c1c"/>
<rect x="1193" y="521" width="2" height="3" fill="#1c1c1c"/>
<rect x="1201.4" y="84" width="2" height="3" fill="#1c1c1c"/>
<rect x="1201.4" y="521" width="2" height="3" fill="#1c1c1c"/>
<rect x="1209.8" y="84" width="2" height="3" fill="#1c1c1c"/>
<rect x="1209.8" y="521" width="2" height="3" fill="#1c1c1c"/>
<rect x="1218.2" y="84" width="2" height="3" fill="#1c1c1c"/>
<rect x="1218.2" y="521" width="2" height="3" fill="#1c1c1c"/>
<rect x="1226.6" y="84" width="2" height="3" fill="#1c1c1c"/>
<rect x="1226.6" y="521" width="2" height="3" fill="#1c1c1c"/>
<rect x="1235" y="82" width="2" height="5" fill="#1c1c1c"/>
<rect x="1235" y="521" width="2" height="5" fill="#1c1c1c"/>
<rect x="1243.4" y="84" width="2" height="3" fill="#1c1c1c"/>
<rect x="1243.4" y="521" width="2" height="3" fill="#1c1c1c"/>
<rect x="1251.8" y="84" width="2" height="3" fill="#1c1c1c"/>
<rect x="1251.8" y="521" width="2" height="3" fill="#1c1c1c"/>
<rect x="1260.2" y="84" width="2" height="3" fill="#1c1c1c"/>
<rect x="1260.2" y="521" width="2" height="3" fill="#1c1c1c"/>
<rect x="1268.6" y="84" width="2" height="3" fill="#1c1c1c"/>
<rect x="1268.6" y="521" width="2" height="3" fill="#1c1c1c"/>
<rect x="1277" y="84" width="2" height="3" fill="#1c1c1c"/>
<rect x="1277" y="521" width="2" height="3" fill="#1c1c1c"/>
<rect x="755" y="519" width="5" height="2" fill="#1c1c1c"/>
<rect x="1280.5" y="519" width="5" height="2" fill="#1c1c1c"/>
<rect x="757" y="509.18" width="3" height="2" fill="#1c1c1c"/>
<rect x="1280.5" y="509.18" width="3" height="2" fill="#1c1c1c"/>
<rect x="757" y="499.36" width="3" height="2" fill="#1c1c1c"/>
<rect x="1280.5" y="499.36" width="3" height="2" fill="#1c1c1c"/>
<rect x="757" y="489.55" width="3" height="2" fill="#1c1c1c"/>
<rect x="1280.5" y="489.55" width="3" height="2" fill="#1c1c1c"/>
<rect x="755" y="479.73" width="5" height="2" fill="#1c1c1c"/>
<rect x="1280.5" y="479.73" width="5" height="2" fill="#1c1c1c"/>
<rect x="757" y="469.91" width="3" height="2" fill="#1c1c1c"/>
<rect x="1280.5" y="469.91" width="3" height="2" fill="#1c1c1c"/>
<rect x="757" y="460.09" width="3" height="2" fill="#1c1c1c"/>
<rect x="1280.5" y="460.09" width="3" height="2" fill="#1c1c1c"/>
<rect x="757" y="450.27" width="3" height="2" fill="#1c1c1c"/>
<rect x="1280.5" y="450.27" width="3" height="2" fill="#1c1c1c"/>
<rect x="755" y="440.45" width="5" height="2" fill="#1c1c1c"/>
<rect x="1280.5" y="440.45" width="5" height="2" fill="#1c1c1c"/>
<rect x="757" y="430.64" width="3" height="2" fill="#1c1c1c"/>
<rect x="1280.5" y="430.64" width="3" height="2" fill="#1c1c1c"/>
<rect x="757" y="420.82" width="3" height="2" fill="#1c1c1c"/>
<rect x="1280.5" y="420.82" width="3" height="2" fill="#1c1c1c"/>
<rect x="757" y="411" width="3" height="2" fill="#1c1c1c"/>
<rect x="1280.5" y="411" width="3" height="2" fill="#1c1c1c"/>
<rect x="755" y="401.18" width="5" height="2" fill="#1c1c1c"/>
<rect x="1280.5" y="401.18" width="5" height="2" fill="#1c1c1c"/>
<rect x="757" y="391.36" width="3" height="2" fill="#1c1c1c"/>
<rect x="1280.5" y="391.36" width="3" height="2" fill="#1c1c1c"/>
<rect x="757" y="381.55" width="3" height="2" fill="#1c1c1c"/>
<rect x="1280.5" y="381.55" width="3" height="2" fill="#1c1c1c"/>
<rect x="757" y="371.73" width="3" height="2" fill="#1c1c1c"/>
<rect x="1280.5" y="371.73" width="3" height="2" fill="#1c1c1c"/>
<rect x="755" y="361.91" width="5" height="2" fill="#1c1c1c"/>
<rect x="1280.5" y="361.91" width="5" height="2" fill="#1c1c1c"/>
<rect x="757" y="352.09" width="3" height="2" fill="#1c1c1c"/>
<rect x="1280.5" y="352.09" width="3" height="2" fill="#1c1c1c"/>
<rect x="757" y="342.27" width="3" height="2" fill="#1c1c1c"/>
<rect x="1280.5" y="342.27" width="3" height="2" fill="#1c1c1c"/>
<rect x="757" y="332.45" width="3" height="2" fill="#1c1c1c"/>
<rect x="1280.5" y="332.45" width="3" height="2" fill="#1c1c1c"/>
<rect x="755" y="322.64" width="5" height="2" fill="#1c1c1c"/>
<rect x="1280.5" y="322.64" width="5" height="2" fill="#1c1c1c"/>
<rect x="757" y="312.82" width="3" height="2" fill="#1c1c1c"/>
<rect x="1280.5" y="312.82" width="3" height="2" fill="#1c1c1c"/>
<rect x="757" y="303" width="3" height="2" fill="#1c1c1c"/>
<rect x="1280.5" y="303" width="3" height="2" fill="#1c1c1c"/>
<rect x="757" y="293.18" width="3" height="2" fill="#1c1c1c"/>
<rect x="1280.5" y="293.18" width="3" height="2" fill="#1c1c1c"/>
<rect x="755" y="283.36" width="5" height="2" fill="#1c1c1c"/>
<rect x="1280.5" y="283.36" width="5" height="2" fill="#1c1c1c"/>
<rect x="757" y="273.55" width="3" height="2" fill="#1c1c1c"/>
<rect x="1280.5" y="273.55" width="3" height="2" fill="#1c1c1c"/>
<rect x="757" y="263.73" width="3" height="2" fill="#1c1c1c"/>
<rect x="1280.5" y="263.73" width="3" height="2" fill="#1c1c1c"/>
<rect x="757" y="253.91" width="3" height="2" fill="#1c1c1c"/>
<rect x="1280.5" y="253.91" width="3" height="2" fill="#1c1c1c"/>
<rect x="755" y="244.09" width="5" height="2" fill="#1c1c1c"/>
<rect x="1280.5" y="244.09" width="5" height="2" fill="#1c1c1c"/>
<rect x="757" y="234.27" width="3" height="2" fill="#1c1c1c"/>
<rect x="1280.5" y="234.27" width="3" height="2" fill="#1c1c1c"/>
<rect x="757" y="224.45" width="3" height="2" fill="#1c1c1c"/>
<rect x="1280.5" y="224.45" width="3" height="2" fill="#1c1c1c"/>
<rect x="757" y="214.64" width="3" height="2" fill="#1c1c1c"/>
<rect x="1280.5" y="214.64" width="3" height="2" fill="#1c1c1c"/>
<rect x="755" y="204.82" width="5" height="2" fill="#1c1c1c"/>
<rect x="1280.5" y="204.82" width="5" height="2" fill="#1c1c1c"/>
<rect x="757" y="195" width="3" height="2" fill="#1c1c1c"/>
<rect x="1280.5" y="195" width="3" height="2" fill="#1c1c1c"/>
<rect x="757" y="185.18" width="3" height="2" fill="#1c1c1c"/>
<rect x="1280.5" y="185.18" width="3" height="2" fill="#1c1c1c"/>
<rect x="757" y="175.36" width="3" height="2" fill="#1c1c1c"/>
<rect x="1280.5" y="175.36" width="3" height="2" fill="#1c1c1c"/>
<rect x="755" y="165.55" width="5" height="2" fill="#1c1c1c"/>
<rect x="1280.5" y="165.55" width="5" height="2" fill="#1c1c1c"/>
<rect x="757" y="155.73" width="3" height="2" fill="#1c1c1c"/>
<rect x="1280.5" y="155.73" width="3" height="2" fill="#1c1c1c"/>
<rect x="757" y="145.91" width="3" height="2" fill="#1c1c1c"/>
<rect x="1280.5" y="145.91" width="3" height="2" fill="#1c1c1c"/>
<rect x="757" y="136.09" width="3" height="2" fill="#1c1c1c"/>
<rect x="1280.5" y="136.09" width="3" height="2" fill="#1c1c1c"/>
<rect x="755" y="126.27" width="5" height="2" fill="#1c1c1c"/>
<rect x="1280.5" y="126.27" width="5" height="2" fill="#1c1c1c"/>
<rect x="757" y="116.45" width="3" height="2" fill="#1c1c1c"/>
<rect x="1280.5" y="116.45" width="3" height="2" fill="#1c1c1c"/>
<rect x="757" y="106.64" width="3" height="2" fill="#1c1c1c"/>
<rect x="1280.5" y="106.64" width="3" height="2" fill="#1c1c1c"/>
<rect x="757" y="96.82" width="3" height="2" fill="#1c1c1c"/>
<rect x="1280.5" y="96.82" width="3" height="2" fill="#1c1c1c"/>
<rect x="755" y="87" width="5" height="2" fill="#1c1c1c"/>
<rect x="1280.5" y="87" width="5" height="2" fill="#1c1c1c"/>
<text x="817" y="76" font-size="20.5" text-anchor="middle" fill="#333">0.5</text>
<text x="817" y="546" font-size="20.5" text-anchor="middle" fill="#333">0.5</text>
<text x="899.5" y="76" font-size="20.5" text-anchor="middle" fill="#333">0.0</text>
<text x="899.5" y="546" font-size="20.5" text-anchor="middle" fill="#333">0.0</text>
<text x="983.5" y="76" font-size="20.5" text-anchor="middle" fill="#333">-0.5</text>
<text x="983.5" y="546" font-size="20.5" text-anchor="middle" fill="#333">-0.5</text>
<text x="1068.5" y="76" font-size="20.5" text-anchor="middle" fill="#333">-1.0</text>
<text x="1068.5" y="546" font-size="20.5" text-anchor="middle" fill="#333">-1.0</text>
<text x="1158" y="76" font-size="20.5" text-anchor="middle" fill="#333">-1.5</text>
<text x="1158" y="546" font-size="20.5" text-anchor="middle" fill="#333">-1.5</text>
<text x="1251" y="76" font-size="20.5" text-anchor="middle" fill="#333">-2.0</text>
<text x="1251" y="546" font-size="20.5" text-anchor="middle" fill="#333">-2.0</text>
<text x="750.5" y="523" font-size="21.5" text-anchor="middle" fill="#333" transform="rotate(-90 750.5 523)">0.0</text>
<text x="1304" y="523" font-size="21.5" text-anchor="middle" fill="#333" transform="rotate(-90 1304 523)">0.0</text>
<text x="750.5" y="407.5" font-size="21.5" text-anchor="middle" fill="#333" transform="rotate(-90 750.5 407.5)">0.6</text>
<text x="1304" y="407.5" font-size="21.5" text-anchor="middle" fill="#333" transform="rotate(-90 1304 407.5)">0.6</text>
<text x="750.5" y="326" font-size="21.5" text-anchor="middle" fill="#333" transform="rotate(-90 750.5 326)">1.0</text>
<text x="1304" y="326" font-size="21.5" text-anchor="middle" fill="#333" transform="rotate(-90 1304 326)">1.0</text>
<text x="750.5" y="242.5" font-size="21.5" text-anchor="middle" fill="#333" transform="rotate(-90 750.5 242.5)">1.4</text>
<text x="1304" y="242.5" font-size="21.5" text-anchor="middle" fill="#333" transform="rotate(-90 1304 242.5)">1.4</text>
<text x="750.5" y="199" font-size="21.5" text-anchor="middle" fill="#333" transform="rotate(-90 750.5 199)">1.6</text>
<text x="1304" y="199" font-size="21.5" text-anchor="middle" fill="#333" transform="rotate(-90 1304 199)">1.6</text>
<text x="750.5" y="155.5" font-size="21.5" text-anchor="middle" fill="#333" transform="rotate(-90 750.5 155.5)">1.8</text>
<text x="1304" y="155.5" font-size="21.5" text-anchor="middle" fill="#333" transform="rotate(-90 1304 155.5)">1.8</text>
<text x="750.5" y="113" font-size="21.5" text-anchor="middle" fill="#333" transform="rotate(-90 750.5 113)">2.0</text>
<text x="1304" y="113" font-size="21.5" text-anchor="middle" fill="#333" transform="rotate(-90 1304 113)">2.0</text>
<text x="714" y="307" font-size="27" text-anchor="middle" fill="#1a1a1a" font-weight="bold" transform="rotate(-90 714 307)"><tspan font-style="italic">q</tspan><tspan dy="6" font-size="18">z</tspan><tspan dy="-6"> (Å</tspan><tspan dy="-13" font-size="17"> -1</tspan><tspan dy="13">)</tspan></text>
<text x="1021.5" y="582" font-size="27" text-anchor="middle" fill="#1a1a1a" font-weight="bold"><tspan font-style="italic">q</tspan><tspan dy="6" font-size="18">xy</tspan><tspan dy="-6"> (Å</tspan><tspan dy="-13" font-size="17"> -1</tspan><tspan dy="13">)</tspan></text>
<clipPath id="lnclip1"><rect x="85" y="86" width="520" height="434"/></clipPath><clipPath id="lnclip2"><rect x="761" y="88" width="518.5" height="434"/></clipPath>
<g clip-path="url(#lnclip1)">
<path d="M223.5,513.8 L493.5,513.8 M223.5,514 L405,323" stroke="#ffb400" stroke-width="6.5" fill="none" stroke-linejoin="miter"/>
<path d="M120,151.5 L223,517 L317.5,150" stroke="#ff5050" stroke-width="6.5" fill="none" stroke-linejoin="miter" stroke-miterlimit="10"/>
</g><g clip-path="url(#lnclip2)">
<path d="M900,515.5 L1179,515.5 M900,515.5 L1150.5,383" stroke="#ffb400" stroke-width="6.5" fill="none"/>
<path d="M827.5,151.5 L900,518 L957,151.5" stroke="#ff5050" stroke-width="6.5" fill="none" stroke-linejoin="miter" stroke-miterlimit="12"/>
</g>
<path d="M354,445 L281,470.5 M307.69,474.6 L281,470.5 L299.33,450.67" fill="none" stroke="#fff" stroke-width="4" stroke-linecap="round" stroke-linejoin="miter"/>
<path d="M367,480.5 L311,496 M337.36,501.86 L311,496 L330.59,477.42" fill="none" stroke="#fff" stroke-width="4" stroke-linecap="round" stroke-linejoin="miter"/>
<path d="M994.5,407.5 L949.5,465.5 M974.13,454.43 L949.5,465.5 L954.1,438.89" fill="none" stroke="#fff" stroke-width="4" stroke-linecap="round" stroke-linejoin="miter"/>
<path d="M1042.5,485.5 L985.5,503.5 M1012.05,508.41 L985.5,503.5 L1004.42,484.23" fill="none" stroke="#fff" stroke-width="4" stroke-linecap="round" stroke-linejoin="miter"/>
<text x="379" y="175" font-size="31" fill="#fff">(010)</text>
<text x="368" y="440" font-size="31" fill="#fff">(200)</text>
<text x="371.5" y="486" font-size="31" fill="#fff">(300)</text>
<text x="1018" y="157.5" font-size="31" fill="#fff">(010)</text>
<text x="984.5" y="379.5" font-size="31" fill="#fff">(200)</text>
<text x="1071.5" y="481.5" font-size="31" fill="#fff">(300)</text>
<path d="M684.3,438 L684.3,573 L821,573" fill="none" stroke="#0a64ff" stroke-width="6.6" stroke-linejoin="miter"/>
<path d="M667.3,461.5 L684.3,436 L701.3,461.5" fill="none" stroke="#0a64ff" stroke-width="6.6" stroke-linejoin="miter" stroke-linecap="round"/>
<path d="M796.5,557 L823,573 L796.5,589" fill="none" stroke="#0a64ff" stroke-width="6.6" stroke-linejoin="miter" stroke-linecap="round"/>
<text x="679" y="422" font-size="40.5" fill="#0a64ff">0°</text>
<text x="862" y="598" font-size="40.5" fill="#0a64ff">90°</text>
</g>
<g id="panel-c">
<line x1="80.5" y1="1051.5" x2="80.5" y2="681" stroke="#000" stroke-width="4" />
<path d="M95.53,706.61 L80.5,679.5 L65.47,706.61" fill="none" stroke="#000" stroke-width="4" stroke-linejoin="miter" stroke-linecap="round"/>
<line x1="78.5" y1="1049.5" x2="1219" y2="1049.5" stroke="#000" stroke-width="4" />
<path d="M1193.89,1064.53 L1221,1049.5 L1193.89,1034.47" fill="none" stroke="#000" stroke-width="4" stroke-linejoin="miter" stroke-linecap="round"/>
<line x1="80.5" y1="1049.5" x2="343" y2="756" stroke="#000" stroke-width="4" />
<path d="M338.13,784.23 L345,754 L315.72,764.19" fill="none" stroke="#000" stroke-width="4" stroke-linejoin="miter" stroke-linecap="round"/>
<path d="M284,877.8 L749.2,893.6 L709.7,930.5 L245.8,914.7Z" fill="#b0f3f8" fill-opacity="0.75" stroke="#111" stroke-width="1.2"/>
<path d="M245.8,914.7 L709.7,930.5 L749.2,893.6 L749.6,900.2 L710.2,937.3 L245.4,921.4Z" fill="#111"/>
<g transform="matrix(0.2617,0.0089,-0.0637,0.0615,261.5,870.6)" opacity="0.85">
<path d="M395,150 L465,178 L470,245 L405,283 L332,255 L325,188 Z M400,172 L448,192 M455,243 L412,266 M346,248 L340,197 M395,150 L395,118 M325,188 L282,172 M470,245 L535,268 L505,322 L425,330 L405,283 M535,268 L580,258 M533,277 L578,267 M425,330 L370,372 M433,339 L379,381 M370,372 L295,376 M370,372 L368,415 M505,322 L520,378 L600,392 M494,330 L507,372 M600,395 L655,378 M700,390 L720,428 L680,470 L600,455 Z M615,410 L615,445 M705,432 L676,458 M720,428 L790,432 L800,490 L745,500 M680,470 L695,495 M795,445 L803,480 M790,432 L850,410 M890,415 L915,455 L870,505 L800,490 M915,455 L1000,460 L1035,515 L985,560 L895,555 L870,505 Z M925,470 L992,474 M1020,518 L980,548 M885,512 L905,545 M1000,460 L1045,420 M1082,420 L1125,440 L1110,500 L1035,515 M1112,452 L1100,492 M1125,440 L1215,420 L1240,480 L1200,510 M1160,515 L1110,500 M1205,435 L1225,472 M1215,420 L1265,395 M1305,392 L1345,410 L1335,470 L1240,480 M1330,420 L1322,462 M895,555 L870,605 M985,560 L982,610 M868,628 L890,645 M970,630 L930,648 M905,560 L885,600 M975,566 L972,604 M868,398 L880,330 L875,275 M1062,400 L1075,340 L1130,300 M600,455 L530,482 M1335,470 L1372,500 M1345,410 L1440,402 L1485,352 M1352,420 L1440,412 M1485,352 L1462,300 L1540,285 L1600,330 L1570,378 Z M1462,300 L1420,290 M1464,309 L1422,299 M1540,285 L1570,215 L1640,185 L1705,215 L1700,280 L1635,315 L1600,330 M1585,222 L1640,200 M1690,225 L1687,275 M1628,303 L1598,318 M1640,185 L1665,158 M1705,215 L1770,205 M1570,378 L1600,425 M1580,372 L1610,418 M1600,425 L1690,415 M1600,425 L1565,462 " fill="none" stroke="#333" stroke-width="7" stroke-linejoin="round" stroke-linecap="round"/>
<text x="232" y="178" font-size="56" font-weight="bold" font-style="italic" fill="#333">F</text>
<text x="1768" y="222" font-size="56" font-weight="bold" font-style="italic" fill="#333">F</text>
<text x="575" y="268" font-size="56" font-weight="bold" font-style="italic" fill="#333">O</text>
<text x="1372" y="305" font-size="56" font-weight="bold" font-style="italic" fill="#333">O</text>
<text x="198" y="392" font-size="50" font-weight="bold" font-style="italic" fill="#333">NC</text>
<text x="350" y="455" font-size="50" font-weight="bold" font-style="italic" fill="#333">CN</text>
<text x="332" y="508" font-size="54" font-weight="bold" font-style="italic" fill="#333">C<tspan font-size="34" dy="9">11</tspan><tspan dy="-9">H</tspan><tspan font-size="34" dy="9">23</tspan></text>
<text x="655" y="380" font-size="48" font-weight="bold" font-style="italic" fill="#333">S</text>
<text x="688" y="530" font-size="48" font-weight="bold" font-style="italic" fill="#333">S</text>
<text x="850" y="424" font-size="48" font-weight="bold" font-style="italic" fill="#333">N</text>
<text x="1040" y="428" font-size="48" font-weight="bold" font-style="italic" fill="#333">N</text>
<text x="1262" y="402" font-size="48" font-weight="bold" font-style="italic" fill="#333">S</text>
<text x="1160" y="543" font-size="48" font-weight="bold" font-style="italic" fill="#333">S</text>
<text x="828" y="642" font-size="44" font-weight="bold" font-style="italic" fill="#333">N</text>
<text x="965" y="645" font-size="44" font-weight="bold" font-style="italic" fill="#333">N</text>
<text x="885" y="678" font-size="44" font-weight="bold" font-style="italic" fill="#333">S</text>
<text x="872" y="262" font-size="54" font-weight="bold" font-style="italic" fill="#333">C<tspan font-size="34" dy="9">4</tspan><tspan dy="-9">H</tspan><tspan font-size="34" dy="9">9</tspan><tspan dy="-9"> C</tspan><tspan font-size="34" dy="9">4</tspan><tspan dy="-9">H</tspan><tspan font-size="34" dy="9">9</tspan></text>
<text x="1662" y="432" font-size="50" font-weight="bold" font-style="italic" fill="#333">CN</text>
<text x="1488" y="490" font-size="50" font-weight="bold" font-style="italic" fill="#333">NC</text>
<text x="1350" y="542" font-size="54" font-weight="bold" font-style="italic" fill="#333">C<tspan font-size="34" dy="9">11</tspan><tspan dy="-9">H</tspan><tspan font-size="34" dy="9">23</tspan></text>
</g>
<path d="M314.3,819.8 L744,959.5 L691.2,1001.6 L261.6,862Z" fill="#b0f3f8" fill-opacity="0.72" stroke="#111" stroke-width="1.2"/>
<path d="M261.6,862 L691.2,1001.6 L744,959.5 L744.6,966.5 L692,1008.6 L260.6,868.8Z" fill="#111"/>
<path d="M464.5,922.2 L626,927.7 L644,934.6 L482,929.2Z" fill="#2a7a82"/>
<path d="M490,905 L620,920 L626,927.7 L464.5,922.2Z" fill="#7fd8e0" opacity="0.3"/>
<g transform="matrix(0.242,0.0785,-0.087,0.070,295.9,804.2)" opacity="0.92">
<path d="M395,150 L465,178 L470,245 L405,283 L332,255 L325,188 Z M400,172 L448,192 M455,243 L412,266 M346,248 L340,197 M395,150 L395,118 M325,188 L282,172 M470,245 L535,268 L505,322 L425,330 L405,283 M535,268 L580,258 M533,277 L578,267 M425,330 L370,372 M433,339 L379,381 M370,372 L295,376 M370,372 L368,415 M505,322 L520,378 L600,392 M494,330 L507,372 M600,395 L655,378 M700,390 L720,428 L680,470 L600,455 Z M615,410 L615,445 M705,432 L676,458 M720,428 L790,432 L800,490 L745,500 M680,470 L695,495 M795,445 L803,480 M790,432 L850,410 M890,415 L915,455 L870,505 L800,490 M915,455 L1000,460 L1035,515 L985,560 L895,555 L870,505 Z M925,470 L992,474 M1020,518 L980,548 M885,512 L905,545 M1000,460 L1045,420 M1082,420 L1125,440 L1110,500 L1035,515 M1112,452 L1100,492 M1125,440 L1215,420 L1240,480 L1200,510 M1160,515 L1110,500 M1205,435 L1225,472 M1215,420 L1265,395 M1305,392 L1345,410 L1335,470 L1240,480 M1330,420 L1322,462 M895,555 L870,605 M985,560 L982,610 M868,628 L890,645 M970,630 L930,648 M905,560 L885,600 M975,566 L972,604 M868,398 L880,330 L875,275 M1062,400 L1075,340 L1130,300 M600,455 L530,482 M1335,470 L1372,500 M1345,410 L1440,402 L1485,352 M1352,420 L1440,412 M1485,352 L1462,300 L1540,285 L1600,330 L1570,378 Z M1462,300 L1420,290 M1464,309 L1422,299 M1540,285 L1570,215 L1640,185 L1705,215 L1700,280 L1635,315 L1600,330 M1585,222 L1640,200 M1690,225 L1687,275 M1628,303 L1598,318 M1640,185 L1665,158 M1705,215 L1770,205 M1570,378 L1600,425 M1580,372 L1610,418 M1600,425 L1690,415 M1600,425 L1565,462 " fill="none" stroke="#2a2a2a" stroke-width="7" stroke-linejoin="round" stroke-linecap="round"/>
<text x="232" y="178" font-size="56" font-weight="bold" font-style="italic" fill="#2a2a2a">F</text>
<text x="1768" y="222" font-size="56" font-weight="bold" font-style="italic" fill="#2a2a2a">F</text>
<text x="575" y="268" font-size="56" font-weight="bold" font-style="italic" fill="#2a2a2a">O</text>
<text x="1372" y="305" font-size="56" font-weight="bold" font-style="italic" fill="#2a2a2a">O</text>
<text x="198" y="392" font-size="50" font-weight="bold" font-style="italic" fill="#2a2a2a">NC</text>
<text x="350" y="455" font-size="50" font-weight="bold" font-style="italic" fill="#2a2a2a">CN</text>
<text x="332" y="508" font-size="54" font-weight="bold" font-style="italic" fill="#2a2a2a">C<tspan font-size="34" dy="9">11</tspan><tspan dy="-9">H</tspan><tspan font-size="34" dy="9">23</tspan></text>
<text x="655" y="380" font-size="48" font-weight="bold" font-style="italic" fill="#2a2a2a">S</text>
<text x="688" y="530" font-size="48" font-weight="bold" font-style="italic" fill="#2a2a2a">S</text>
<text x="850" y="424" font-size="48" font-weight="bold" font-style="italic" fill="#2a2a2a">N</text>
<text x="1040" y="428" font-size="48" font-weight="bold" font-style="italic" fill="#2a2a2a">N</text>
<text x="1262" y="402" font-size="48" font-weight="bold" font-style="italic" fill="#2a2a2a">S</text>
<text x="1160" y="543" font-size="48" font-weight="bold" font-style="italic" fill="#2a2a2a">S</text>
<text x="828" y="642" font-size="44" font-weight="bold" font-style="italic" fill="#2a2a2a">N</text>
<text x="965" y="645" font-size="44" font-weight="bold" font-style="italic" fill="#2a2a2a">N</text>
<text x="885" y="678" font-size="44" font-weight="bold" font-style="italic" fill="#2a2a2a">S</text>
<text x="872" y="262" font-size="54" font-weight="bold" font-style="italic" fill="#2a2a2a">C<tspan font-size="34" dy="9">4</tspan><tspan dy="-9">H</tspan><tspan font-size="34" dy="9">9</tspan><tspan dy="-9"> C</tspan><tspan font-size="34" dy="9">4</tspan><tspan dy="-9">H</tspan><tspan font-size="34" dy="9">9</tspan></text>
<text x="1662" y="432" font-size="50" font-weight="bold" font-style="italic" fill="#2a2a2a">CN</text>
<text x="1488" y="490" font-size="50" font-weight="bold" font-style="italic" fill="#2a2a2a">NC</text>
<text x="1350" y="542" font-size="54" font-weight="bold" font-style="italic" fill="#2a2a2a">C<tspan font-size="34" dy="9">11</tspan><tspan dy="-9">H</tspan><tspan font-size="34" dy="9">23</tspan></text>
</g>
<path d="M509.5,884 L463.5,928" stroke="#f01010" stroke-width="5" stroke-dasharray="13 5" fill="none"/>
<path d="M797.5,892 L1266.5,908 L1227,944.5 L759,930Z" fill="#c0f7fa" stroke="#111" stroke-width="1.5"/>
<path d="M759,930 L1227,944.5 L1266.5,908 L1267,915 L1228,952 L758.5,937Z" fill="#111"/>
<path d="M799,843.5 L1262.5,861 L1229.5,1000.5 L764.5,984Z" fill="#c0f7fa" stroke="#111" stroke-width="3"/>
<path d="M797,841 L1264,858.5 L1263,866.5 L798,849Z" fill="#111"/>
<path d="M787,892 L1256,908 L1240,944.8 L772,930.5Z" fill="#9cf0f6"/>
<path d="M787,892 L1256,908" stroke="#5ab0b8" stroke-width="1" fill="none"/>
<path d="M772,930 L1225,944.5 L1240,931 L1238,945 L1226,952 L771,937Z" fill="#1e5a62"/>
<g transform="matrix(0.2636,0,0,0.2636,750,830)" opacity="0.95">
<path d="M395,150 L465,178 L470,245 L405,283 L332,255 L325,188 Z M400,172 L448,192 M455,243 L412,266 M346,248 L340,197 M395,150 L395,118 M325,188 L282,172 M470,245 L535,268 L505,322 L425,330 L405,283 M535,268 L580,258 M533,277 L578,267 M425,330 L370,372 M433,339 L379,381 M370,372 L295,376 M370,372 L368,415 M505,322 L520,378 L600,392 M494,330 L507,372 M600,395 L655,378 M700,390 L720,428 L680,470 L600,455 Z M615,410 L615,445 M705,432 L676,458 M720,428 L790,432 L800,490 L745,500 M680,470 L695,495 M795,445 L803,480 M790,432 L850,410 M890,415 L915,455 L870,505 L800,490 M915,455 L1000,460 L1035,515 L985,560 L895,555 L870,505 Z M925,470 L992,474 M1020,518 L980,548 M885,512 L905,545 M1000,460 L1045,420 M1082,420 L1125,440 L1110,500 L1035,515 M1112,452 L1100,492 M1125,440 L1215,420 L1240,480 L1200,510 M1160,515 L1110,500 M1205,435 L1225,472 M1215,420 L1265,395 M1305,392 L1345,410 L1335,470 L1240,480 M1330,420 L1322,462 M895,555 L870,605 M985,560 L982,610 M868,628 L890,645 M970,630 L930,648 M905,560 L885,600 M975,566 L972,604 M868,398 L880,330 L875,275 M1062,400 L1075,340 L1130,300 M600,455 L530,482 M1335,470 L1372,500 M1345,410 L1440,402 L1485,352 M1352,420 L1440,412 M1485,352 L1462,300 L1540,285 L1600,330 L1570,378 Z M1462,300 L1420,290 M1464,309 L1422,299 M1540,285 L1570,215 L1640,185 L1705,215 L1700,280 L1635,315 L1600,330 M1585,222 L1640,200 M1690,225 L1687,275 M1628,303 L1598,318 M1640,185 L1665,158 M1705,215 L1770,205 M1570,378 L1600,425 M1580,372 L1610,418 M1600,425 L1690,415 M1600,425 L1565,462 " fill="none" stroke="#2a2a2a" stroke-width="5.2" stroke-linejoin="round" stroke-linecap="round"/>
<text x="232" y="178" font-size="56" font-weight="bold" font-style="italic" fill="#2a2a2a">F</text>
<text x="1768" y="222" font-size="56" font-weight="bold" font-style="italic" fill="#2a2a2a">F</text>
<text x="575" y="268" font-size="56" font-weight="bold" font-style="italic" fill="#2a2a2a">O</text>
<text x="1372" y="305" font-size="56" font-weight="bold" font-style="italic" fill="#2a2a2a">O</text>
<text x="198" y="392" font-size="50" font-weight="bold" font-style="italic" fill="#2a2a2a">NC</text>
<text x="350" y="455" font-size="50" font-weight="bold" font-style="italic" fill="#2a2a2a">CN</text>
<text x="332" y="508" font-size="54" font-weight="bold" font-style="italic" fill="#2a2a2a">C<tspan font-size="34" dy="9">11</tspan><tspan dy="-9">H</tspan><tspan font-size="34" dy="9">23</tspan></text>
<text x="655" y="380" font-size="48" font-weight="bold" font-style="italic" fill="#2a2a2a">S</text>
<text x="688" y="530" font-size="48" font-weight="bold" font-style="italic" fill="#2a2a2a">S</text>
<text x="850" y="424" font-size="48" font-weight="bold" font-style="italic" fill="#2a2a2a">N</text>
<text x="1040" y="428" font-size="48" font-weight="bold" font-style="italic" fill="#2a2a2a">N</text>
<text x="1262" y="402" font-size="48" font-weight="bold" font-style="italic" fill="#2a2a2a">S</text>
<text x="1160" y="543" font-size="48" font-weight="bold" font-style="italic" fill="#2a2a2a">S</text>
<text x="828" y="642" font-size="44" font-weight="bold" font-style="italic" fill="#2a2a2a">N</text>
<text x="965" y="645" font-size="44" font-weight="bold" font-style="italic" fill="#2a2a2a">N</text>
<text x="885" y="678" font-size="44" font-weight="bold" font-style="italic" fill="#2a2a2a">S</text>
<text x="872" y="262" font-size="54" font-weight="bold" font-style="italic" fill="#2a2a2a">C<tspan font-size="34" dy="9">4</tspan><tspan dy="-9">H</tspan><tspan font-size="34" dy="9">9</tspan><tspan dy="-9"> C</tspan><tspan font-size="34" dy="9">4</tspan><tspan dy="-9">H</tspan><tspan font-size="34" dy="9">9</tspan></text>
<text x="1662" y="432" font-size="50" font-weight="bold" font-style="italic" fill="#2a2a2a">CN</text>
<text x="1488" y="490" font-size="50" font-weight="bold" font-style="italic" fill="#2a2a2a">NC</text>
<text x="1350" y="542" font-size="54" font-weight="bold" font-style="italic" fill="#2a2a2a">C<tspan font-size="34" dy="9">11</tspan><tspan dy="-9">H</tspan><tspan font-size="34" dy="9">23</tspan></text>
</g>
<g transform="matrix(0.25,0.008,-0.05,0.05,812,895)" opacity="0.6">
<path d="M395,150 L465,178 L470,245 L405,283 L332,255 L325,188 Z M400,172 L448,192 M455,243 L412,266 M346,248 L340,197 M395,150 L395,118 M325,188 L282,172 M470,245 L535,268 L505,322 L425,330 L405,283 M535,268 L580,258 M533,277 L578,267 M425,330 L370,372 M433,339 L379,381 M370,372 L295,376 M370,372 L368,415 M505,322 L520,378 L600,392 M494,330 L507,372 M600,395 L655,378 M700,390 L720,428 L680,470 L600,455 Z M615,410 L615,445 M705,432 L676,458 M720,428 L790,432 L800,490 L745,500 M680,470 L695,495 M795,445 L803,480 M790,432 L850,410 M890,415 L915,455 L870,505 L800,490 M915,455 L1000,460 L1035,515 L985,560 L895,555 L870,505 Z M925,470 L992,474 M1020,518 L980,548 M885,512 L905,545 M1000,460 L1045,420 M1082,420 L1125,440 L1110,500 L1035,515 M1112,452 L1100,492 M1125,440 L1215,420 L1240,480 L1200,510 M1160,515 L1110,500 M1205,435 L1225,472 M1215,420 L1265,395 M1305,392 L1345,410 L1335,470 L1240,480 M1330,420 L1322,462 M895,555 L870,605 M985,560 L982,610 M868,628 L890,645 M970,630 L930,648 M905,560 L885,600 M975,566 L972,604 M868,398 L880,330 L875,275 M1062,400 L1075,340 L1130,300 M600,455 L530,482 M1335,470 L1372,500 M1345,410 L1440,402 L1485,352 M1352,420 L1440,412 M1485,352 L1462,300 L1540,285 L1600,330 L1570,378 Z M1462,300 L1420,290 M1464,309 L1422,299 M1540,285 L1570,215 L1640,185 L1705,215 L1700,280 L1635,315 L1600,330 M1585,222 L1640,200 M1690,225 L1687,275 M1628,303 L1598,318 M1640,185 L1665,158 M1705,215 L1770,205 M1570,378 L1600,425 M1580,372 L1610,418 M1600,425 L1690,415 M1600,425 L1565,462 " fill="none" stroke="#3a6a70" stroke-width="5" stroke-linejoin="round" stroke-linecap="round"/>
</g>
<path d="M783,906.4 L1252,923.6" stroke="#f01010" stroke-width="5.8" stroke-dasharray="19 7" fill="none"/>
<text x="276.5" y="730" font-size="29">[100]</text>
<text x="107.5" y="837" font-size="29">[010]</text>
<text x="395" y="830.5" font-size="29">Face-on to end-on</text>
<text x="189" y="1000" font-size="29">Rotation along [100]</text>
<text x="888" y="757" font-size="29">Face-on to edge-on</text>
<text x="888" y="816" font-size="29">Rotation along [001]</text>
<text x="672" y="1095.5" font-size="29">[001]</text>
</g>
<g id="panel-e">
<radialGradient id="sub1" gradientUnits="userSpaceOnUse" cx="283.57" cy="1383.23" r="210.11" gradientTransform="translate(0 622.45) scale(1 0.55)"><stop offset="0" stop-color="#8ec2f8"/><stop offset="0.55" stop-color="#b4d0fa"/><stop offset="0.85" stop-color="#dcdcfa"/><stop offset="1" stop-color="#ece8fc"/></radialGradient>
<path d="M73.45,1373.32 L290.4,1503.14 L290.4,1510.14 L73.45,1380.32Z" fill="#6e6e72"/>
<path d="M290.4,1503.14 L493.68,1388.69 L493.68,1395.69 L290.4,1510.14Z" fill="#b4b4b8"/>
<path d="M73.45,1373.32 L273.32,1263.31 L493.68,1388.69 L290.4,1503.14Z" fill="url(#sub1)"/>
<path d="M150.32,1393.82 L317.73,1301.57 L423.64,1363.07 L259.65,1455.31Z" fill="#86b8f6" opacity="0.95"/>
<linearGradient id="pg1" gradientUnits="userSpaceOnUse" x1="107.62" y1="1373.32" x2="133.92" y2="1422.35"><stop offset="0" stop-color="#fff1de"/><stop offset="0.2" stop-color="#fdd8a6"/><stop offset="0.5" stop-color="#f9b878"/><stop offset="0.8" stop-color="#fdd8a6"/><stop offset="1" stop-color="#fff1de"/></linearGradient>
<path d="M107.62,1373.32 L280.83,1280.39 L334.13,1307.72 L166.72,1404.75Z" fill="url(#pg1)" stroke="#f6f0f8" stroke-width="1.8" opacity="1.0"/>
<clipPath id="pg1c"><path d="M107.62,1373.32 L280.83,1280.39 L334.13,1307.72 L166.72,1404.75Z"/></clipPath>
<g clip-path="url(#pg1c)"><path transform="matrix(0.16802,-0.09014,0.21278,0.11315,139.77,1387.64)" d="M86,37 L51,56 L17,36 L18,-2 L53,-20 L87,-1Z M64,39 L41,39 M17,36 L-14,52 M18,-2 L-8,-16 M156,-28 L128,7 L83,-7 L84,-52 L129,-65Z M137,-17 L117,-5 M84,-52 L65,-65 M128,7 L135,28 M52,18 L116,-29 M214,45 L179,63 L145,44 L146,6 L181,-13 L215,7Z M192,46 L169,47 M181,-13 L181,-39 M215,7 L245,-9 M116,-29 L180,25 M284,-21 L259,9 L219,3 L204,-32 L229,-62 L269,-56Z M263,-12 L242,-2 M229,-62 L220,-85 M180,25 L244,-26 M348,27 L318,62 L274,45 L277,0 L323,-11Z M328,38 L308,49 M323,-11 L330,-28 M244,-26 L308,25 M411,-7 L382,20 L344,10 L333,-27 L362,-54 L400,-43Z M389,-0 L367,7 M362,-54 L354,-83 M308,25 L372,-17 M460,56 L421,60 L396,30 L412,-5 L451,-10 L476,21Z M440,49 L418,41 M412,-5 L392,-29 M451,-10 L462,-33 M372,-17 L436,25 M526,14 L479,17 L461,-24 L497,-53 L537,-29Z M505,9 L483,2 M526,14 L538,28 M497,-53 L496,-75 M436,25 L500,-15 M600,46 L567,67 L531,51 L528,13 L561,-8 L597,8Z M578,49 L555,52 M597,8 L625,-11 M528,13 L503,2 M500,-15 L564,29 M666,-11 L635,14 L597,1 L590,-37 L621,-61 L659,-48Z M644,-6 L621,-1 M621,-61 L617,-86 M635,14 L641,47 M564,29 L628,-24 M716,55 L669,56 L654,14 L691,-13 L730,13Z M695,49 L674,41 M628,-24 L692,25 M795,-13 L770,16 L731,10 L717,-25 L742,-55 L781,-49Z M775,-4 L754,5 M731,10 L708,37 M742,-55 L731,-81 M692,25 L756,-19 M859,33 L832,62 L793,54 L781,17 L808,-11 L847,-3Z M838,41 L817,49 M808,-11 L800,-32 M756,-19 L820,25 M910,-0 L863,4 L845,-37 L880,-67 L921,-44Z M889,-6 L867,-12 M880,-67 L879,-86 M910,-0 L927,18 M820,25 L884,-29 M986,27 L957,53 L919,42 L910,5 L939,-21 L977,-10Z M965,34 L943,40 M884,-29 L948,16 M470,-10 L532,-10 M470,-10 L517,30 M470,-10 L481,51 M470,-10 L439,44 M470,-10 L412,11 M470,-10 L412,-32 M470,-10 L440,-64 M470,-10 L482,-71 M470,-10 L518,-49 M491,-3 L475,11 L454,5 L449,-17 L465,-31 L486,-25Z M508,2 L479,29 L441,17 L432,-22 L461,-49 L499,-37Z M952,60 L937,81 L912,73 L912,47 L937,39Z M722,78 L707,99 L682,91 L682,65 L707,57Z M262,80 L247,101 L222,93 L222,67 L247,59Z" fill="#f0a05c" fill-opacity="0.4" stroke="#6a4520" stroke-width="5" stroke-linejoin="round" opacity="0.9"/></g>
<linearGradient id="pg2" gradientUnits="userSpaceOnUse" x1="174.24" y1="1408.17" x2="202.47" y2="1460.06"><stop offset="0" stop-color="#fff1de"/><stop offset="0.2" stop-color="#fdd8a6"/><stop offset="0.5" stop-color="#f9b878"/><stop offset="0.8" stop-color="#fdd8a6"/><stop offset="1" stop-color="#fff1de"/></linearGradient>
<path d="M174.24,1408.17 L345.06,1315.24 L399.04,1344.28 L235.05,1442.33Z" fill="url(#pg2)" stroke="#f6f0f8" stroke-width="1.8" opacity="1.0"/>
<clipPath id="pg2c"><path d="M174.24,1408.17 L345.06,1315.24 L399.04,1344.28 L235.05,1442.33Z"/></clipPath>
<g clip-path="url(#pg2c)"><path transform="matrix(0.16570,-0.09014,0.21893,0.12299,207.21,1423.85)" d="M86,37 L51,56 L17,36 L18,-2 L53,-20 L87,-1Z M64,39 L41,39 M17,36 L-14,52 M18,-2 L-8,-16 M156,-28 L128,7 L83,-7 L84,-52 L129,-65Z M137,-17 L117,-5 M84,-52 L65,-65 M128,7 L135,28 M52,18 L116,-29 M214,45 L179,63 L145,44 L146,6 L181,-13 L215,7Z M192,46 L169,47 M181,-13 L181,-39 M215,7 L245,-9 M116,-29 L180,25 M284,-21 L259,9 L219,3 L204,-32 L229,-62 L269,-56Z M263,-12 L242,-2 M229,-62 L220,-85 M180,25 L244,-26 M348,27 L318,62 L274,45 L277,0 L323,-11Z M328,38 L308,49 M323,-11 L330,-28 M244,-26 L308,25 M411,-7 L382,20 L344,10 L333,-27 L362,-54 L400,-43Z M389,-0 L367,7 M362,-54 L354,-83 M308,25 L372,-17 M460,56 L421,60 L396,30 L412,-5 L451,-10 L476,21Z M440,49 L418,41 M412,-5 L392,-29 M451,-10 L462,-33 M372,-17 L436,25 M526,14 L479,17 L461,-24 L497,-53 L537,-29Z M505,9 L483,2 M526,14 L538,28 M497,-53 L496,-75 M436,25 L500,-15 M600,46 L567,67 L531,51 L528,13 L561,-8 L597,8Z M578,49 L555,52 M597,8 L625,-11 M528,13 L503,2 M500,-15 L564,29 M666,-11 L635,14 L597,1 L590,-37 L621,-61 L659,-48Z M644,-6 L621,-1 M621,-61 L617,-86 M635,14 L641,47 M564,29 L628,-24 M716,55 L669,56 L654,14 L691,-13 L730,13Z M695,49 L674,41 M628,-24 L692,25 M795,-13 L770,16 L731,10 L717,-25 L742,-55 L781,-49Z M775,-4 L754,5 M731,10 L708,37 M742,-55 L731,-81 M692,25 L756,-19 M859,33 L832,62 L793,54 L781,17 L808,-11 L847,-3Z M838,41 L817,49 M808,-11 L800,-32 M756,-19 L820,25 M910,-0 L863,4 L845,-37 L880,-67 L921,-44Z M889,-6 L867,-12 M880,-67 L879,-86 M910,-0 L927,18 M820,25 L884,-29 M986,27 L957,53 L919,42 L910,5 L939,-21 L977,-10Z M965,34 L943,40 M884,-29 L948,16 M470,-10 L532,-10 M470,-10 L517,30 M470,-10 L481,51 M470,-10 L439,44 M470,-10 L412,11 M470,-10 L412,-32 M470,-10 L440,-64 M470,-10 L482,-71 M470,-10 L518,-49 M491,-3 L475,11 L454,5 L449,-17 L465,-31 L486,-25Z M508,2 L479,29 L441,17 L432,-22 L461,-49 L499,-37Z M952,60 L937,81 L912,73 L912,47 L937,39Z M722,78 L707,99 L682,91 L682,65 L707,57Z M262,80 L247,101 L222,93 L222,67 L247,59Z" fill="#f0a05c" fill-opacity="0.4" stroke="#6a4520" stroke-width="5" stroke-linejoin="round" opacity="0.9"/></g>
<linearGradient id="pg3" gradientUnits="userSpaceOnUse" x1="239.15" y1="1445.75" x2="268.14" y2="1499.49"><stop offset="0" stop-color="#fff1de"/><stop offset="0.2" stop-color="#fdd8a6"/><stop offset="0.5" stop-color="#f9b878"/><stop offset="0.8" stop-color="#fdd8a6"/><stop offset="1" stop-color="#fff1de"/></linearGradient>
<path d="M239.15,1445.75 L408.27,1354.53 L467.37,1385.28 L300.65,1481.96Z" fill="url(#pg3)" stroke="#f6f0f8" stroke-width="1.8" opacity="1.0"/>
<clipPath id="pg3c"><path d="M239.15,1445.75 L408.27,1354.53 L467.37,1385.28 L300.65,1481.96Z"/></clipPath>
<g clip-path="url(#pg3c)"><path transform="matrix(0.16404,-0.08848,0.22139,0.13037,272.44,1462.49)" d="M86,37 L51,56 L17,36 L18,-2 L53,-20 L87,-1Z M64,39 L41,39 M17,36 L-14,52 M18,-2 L-8,-16 M156,-28 L128,7 L83,-7 L84,-52 L129,-65Z M137,-17 L117,-5 M84,-52 L65,-65 M128,7 L135,28 M52,18 L116,-29 M214,45 L179,63 L145,44 L146,6 L181,-13 L215,7Z M192,46 L169,47 M181,-13 L181,-39 M215,7 L245,-9 M116,-29 L180,25 M284,-21 L259,9 L219,3 L204,-32 L229,-62 L269,-56Z M263,-12 L242,-2 M229,-62 L220,-85 M180,25 L244,-26 M348,27 L318,62 L274,45 L277,0 L323,-11Z M328,38 L308,49 M323,-11 L330,-28 M244,-26 L308,25 M411,-7 L382,20 L344,10 L333,-27 L362,-54 L400,-43Z M389,-0 L367,7 M362,-54 L354,-83 M308,25 L372,-17 M460,56 L421,60 L396,30 L412,-5 L451,-10 L476,21Z M440,49 L418,41 M412,-5 L392,-29 M451,-10 L462,-33 M372,-17 L436,25 M526,14 L479,17 L461,-24 L497,-53 L537,-29Z M505,9 L483,2 M526,14 L538,28 M497,-53 L496,-75 M436,25 L500,-15 M600,46 L567,67 L531,51 L528,13 L561,-8 L597,8Z M578,49 L555,52 M597,8 L625,-11 M528,13 L503,2 M500,-15 L564,29 M666,-11 L635,14 L597,1 L590,-37 L621,-61 L659,-48Z M644,-6 L621,-1 M621,-61 L617,-86 M635,14 L641,47 M564,29 L628,-24 M716,55 L669,56 L654,14 L691,-13 L730,13Z M695,49 L674,41 M628,-24 L692,25 M795,-13 L770,16 L731,10 L717,-25 L742,-55 L781,-49Z M775,-4 L754,5 M731,10 L708,37 M742,-55 L731,-81 M692,25 L756,-19 M859,33 L832,62 L793,54 L781,17 L808,-11 L847,-3Z M838,41 L817,49 M808,-11 L800,-32 M756,-19 L820,25 M910,-0 L863,4 L845,-37 L880,-67 L921,-44Z M889,-6 L867,-12 M880,-67 L879,-86 M910,-0 L927,18 M820,25 L884,-29 M986,27 L957,53 L919,42 L910,5 L939,-21 L977,-10Z M965,34 L943,40 M884,-29 L948,16 M470,-10 L532,-10 M470,-10 L517,30 M470,-10 L481,51 M470,-10 L439,44 M470,-10 L412,11 M470,-10 L412,-32 M470,-10 L440,-64 M470,-10 L482,-71 M470,-10 L518,-49 M491,-3 L475,11 L454,5 L449,-17 L465,-31 L486,-25Z M508,2 L479,29 L441,17 L432,-22 L461,-49 L499,-37Z M952,60 L937,81 L912,73 L912,47 L937,39Z M722,78 L707,99 L682,91 L682,65 L707,57Z M262,80 L247,101 L222,93 L222,67 L247,59Z" fill="#f0a05c" fill-opacity="0.4" stroke="#6a4520" stroke-width="5" stroke-linejoin="round" opacity="0.9"/></g>
<ellipse cx="72.8" cy="1336.8" rx="45" ry="14.3" fill="none" stroke="#3a3af0" stroke-width="1.2"/>
<line x1="72.8" y1="1336.8" x2="42.72" y2="1341.81" stroke="#4a5ae0" stroke-width="1.1"/><path d="M36.8,1342.8 L42.36,1339.64 L43.08,1343.98Z" fill="#4a5ae0"/>
<line x1="72.8" y1="1336.8" x2="104.87" y2="1331.74" stroke="#4a5ae0" stroke-width="1.1"/><path d="M110.8,1330.8 L105.22,1333.91 L104.53,1329.56Z" fill="#4a5ae0"/>
<line x1="72.8" y1="1336.8" x2="59.79" y2="1328.13" stroke="#4a5ae0" stroke-width="1.1"/><path d="M54.8,1324.8 L61.01,1326.3 L58.57,1329.96Z" fill="#4a5ae0"/>
<line x1="72.8" y1="1336.8" x2="87.66" y2="1345.71" stroke="#4a5ae0" stroke-width="1.1"/><path d="M92.8,1348.8 L86.52,1347.6 L88.79,1343.83Z" fill="#4a5ae0"/>
<line x1="72.8" y1="1293.3" x2="72.8" y2="1362.3" stroke="#e81818" stroke-width="1.4"/><path d="M72.8,1372.3 L69.8,1362.3 L75.8,1362.3Z" fill="#e81818"/>
<line x1="73.8" y1="1372.3" x2="173.01" y2="1314.81" stroke="#10a050" stroke-width="1.5"/><path d="M180.8,1310.3 L174.52,1317.41 L171.51,1312.22Z" fill="#10a050"/>
<line x1="73.8" y1="1374.3" x2="167.94" y2="1426.91" stroke="#3a3af0" stroke-width="1.5"/><path d="M175.8,1431.3 L166.48,1429.53 L169.41,1424.29Z" fill="#3a3af0"/>
<text x="53.8" y="1287.3" font-size="27" font-style="italic" font-family='"Liberation Serif", serif'>hv</text>
<text x="111.8" y="1313.3" font-size="27" fill="#10a050">E<tspan dy="6" font-size="17">X</tspan></text>
<text x="109.8" y="1444.3" font-size="27" fill="#3a3af0">E<tspan dy="6" font-size="15">Y</tspan></text>
<path d="M415,1354.53 L415,1241.39" stroke="#f21cbc" stroke-width="5.4" fill="none"/><path d="M405.5,1253.39 L415,1239.39 L424.5,1253.39" stroke="#f21cbc" stroke-width="5.4" fill="none" stroke-linejoin="miter" stroke-linecap="round"/>
<path d="M415,1446.77 L415,1488.16" stroke="#c244f2" stroke-width="5.4" fill="none"/><path d="M405.5,1476.16 L415,1490.16 L424.5,1476.16" stroke="#c244f2" stroke-width="5.4" fill="none" stroke-linejoin="miter" stroke-linecap="round"/>
<text x="410" y="1237" font-size="27">R<tspan dy="6" font-size="17">1</tspan></text>
<text x="408.5" y="1523" font-size="27">T<tspan dy="6" font-size="17">1</tspan></text>
<text x="84.5" y="1490" font-size="27" fill="#222">Face-on</text>
<text x="86" y="1528" font-size="27" fill="#222">packing</text>
<path d="M188,1490.5 L225,1490.5 L270,1464" fill="none" stroke="#b85cf0" stroke-width="2" stroke-dasharray="5 2.5"/>
<radialGradient id="sub2" gradientUnits="userSpaceOnUse" cx="714.23" cy="1381.41" r="210.24" gradientTransform="translate(0 621.64) scale(1 0.55)"><stop offset="0" stop-color="#8ec2f8"/><stop offset="0.55" stop-color="#b4d0fa"/><stop offset="0.85" stop-color="#dcdcfa"/><stop offset="1" stop-color="#ece8fc"/></radialGradient>
<path d="M503.99,1373.23 L721.6,1509.03 L721.6,1516.03 L503.99,1380.23Z" fill="#6e6e72"/>
<path d="M721.6,1509.03 L924.48,1387.96 L924.48,1394.96 L721.6,1516.03Z" fill="#b4b4b8"/>
<path d="M503.99,1373.23 L741.23,1253.8 L924.48,1387.96 L721.6,1509.03Z" fill="url(#sub2)"/>
<path d="M572.71,1402.68 L741.23,1302.88 L868.85,1378.14 L700.33,1476.31Z" fill="#8cc0f8" opacity="0.9"/>
<linearGradient id="pg4" gradientUnits="userSpaceOnUse" x1="572.71" y1="1343.78" x2="599.11" y2="1386.28"><stop offset="0" stop-color="#fff1de"/><stop offset="0.2" stop-color="#fdd8a6"/><stop offset="0.5" stop-color="#f9b878"/><stop offset="0.8" stop-color="#fdd8a6"/><stop offset="1" stop-color="#fff1de"/></linearGradient>
<path d="M572.71,1343.78 L741.23,1239.07 L741.23,1302.88 L572.71,1402.68Z" fill="url(#pg4)" stroke="#f6f0f8" stroke-width="1.8" opacity="1.0"/>
<clipPath id="pg4c"><path d="M572.71,1343.78 L741.23,1239.07 L741.23,1302.88 L572.71,1402.68Z"/></clipPath>
<g clip-path="url(#pg4c)"><path transform="matrix(0.16347,-0.10157,0.00000,0.21204,575.24,1371.66)" d="M86,37 L51,56 L17,36 L18,-2 L53,-20 L87,-1Z M64,39 L41,39 M17,36 L-14,52 M18,-2 L-8,-16 M156,-28 L128,7 L83,-7 L84,-52 L129,-65Z M137,-17 L117,-5 M84,-52 L65,-65 M128,7 L135,28 M52,18 L116,-29 M214,45 L179,63 L145,44 L146,6 L181,-13 L215,7Z M192,46 L169,47 M181,-13 L181,-39 M215,7 L245,-9 M116,-29 L180,25 M284,-21 L259,9 L219,3 L204,-32 L229,-62 L269,-56Z M263,-12 L242,-2 M229,-62 L220,-85 M180,25 L244,-26 M348,27 L318,62 L274,45 L277,0 L323,-11Z M328,38 L308,49 M323,-11 L330,-28 M244,-26 L308,25 M411,-7 L382,20 L344,10 L333,-27 L362,-54 L400,-43Z M389,-0 L367,7 M362,-54 L354,-83 M308,25 L372,-17 M460,56 L421,60 L396,30 L412,-5 L451,-10 L476,21Z M440,49 L418,41 M412,-5 L392,-29 M451,-10 L462,-33 M372,-17 L436,25 M526,14 L479,17 L461,-24 L497,-53 L537,-29Z M505,9 L483,2 M526,14 L538,28 M497,-53 L496,-75 M436,25 L500,-15 M600,46 L567,67 L531,51 L528,13 L561,-8 L597,8Z M578,49 L555,52 M597,8 L625,-11 M528,13 L503,2 M500,-15 L564,29 M666,-11 L635,14 L597,1 L590,-37 L621,-61 L659,-48Z M644,-6 L621,-1 M621,-61 L617,-86 M635,14 L641,47 M564,29 L628,-24 M716,55 L669,56 L654,14 L691,-13 L730,13Z M695,49 L674,41 M628,-24 L692,25 M795,-13 L770,16 L731,10 L717,-25 L742,-55 L781,-49Z M775,-4 L754,5 M731,10 L708,37 M742,-55 L731,-81 M692,25 L756,-19 M859,33 L832,62 L793,54 L781,17 L808,-11 L847,-3Z M838,41 L817,49 M808,-11 L800,-32 M756,-19 L820,25 M910,-0 L863,4 L845,-37 L880,-67 L921,-44Z M889,-6 L867,-12 M880,-67 L879,-86 M910,-0 L927,18 M820,25 L884,-29 M986,27 L957,53 L919,42 L910,5 L939,-21 L977,-10Z M965,34 L943,40 M884,-29 L948,16 M470,-10 L532,-10 M470,-10 L517,30 M470,-10 L481,51 M470,-10 L439,44 M470,-10 L412,11 M470,-10 L412,-32 M470,-10 L440,-64 M470,-10 L482,-71 M470,-10 L518,-49 M491,-3 L475,11 L454,5 L449,-17 L465,-31 L486,-25Z M508,2 L479,29 L441,17 L432,-22 L461,-49 L499,-37Z M952,60 L937,81 L912,73 L912,47 L937,39Z M722,78 L707,99 L682,91 L682,65 L707,57Z M262,80 L247,101 L222,93 L222,67 L247,59Z" fill="#f0a05c" fill-opacity="0.4" stroke="#6a4520" stroke-width="5" stroke-linejoin="round" opacity="0.9"/></g>
<path d="M572.71,1402.68 L633.25,1441.95 L633.25,1427.23 L580.89,1397.77Z" fill="#a8cef8" opacity="0.8"/>
<linearGradient id="pg5" gradientUnits="userSpaceOnUse" x1="633.25" y1="1383.05" x2="659.65" y2="1425.54"><stop offset="0" stop-color="#fff1de"/><stop offset="0.2" stop-color="#fdd8a6"/><stop offset="0.5" stop-color="#f9b878"/><stop offset="0.8" stop-color="#fdd8a6"/><stop offset="1" stop-color="#fff1de"/></linearGradient>
<path d="M633.25,1383.05 L801.77,1278.34 L801.77,1342.15 L633.25,1441.95Z" fill="url(#pg5)" stroke="#f6f0f8" stroke-width="1.8" opacity="1.0"/>
<clipPath id="pg5c"><path d="M633.25,1383.05 L801.77,1278.34 L801.77,1342.15 L633.25,1441.95Z"/></clipPath>
<g clip-path="url(#pg5c)"><path transform="matrix(0.16347,-0.10157,0.00000,0.21204,635.77,1410.93)" d="M86,37 L51,56 L17,36 L18,-2 L53,-20 L87,-1Z M64,39 L41,39 M17,36 L-14,52 M18,-2 L-8,-16 M156,-28 L128,7 L83,-7 L84,-52 L129,-65Z M137,-17 L117,-5 M84,-52 L65,-65 M128,7 L135,28 M52,18 L116,-29 M214,45 L179,63 L145,44 L146,6 L181,-13 L215,7Z M192,46 L169,47 M181,-13 L181,-39 M215,7 L245,-9 M116,-29 L180,25 M284,-21 L259,9 L219,3 L204,-32 L229,-62 L269,-56Z M263,-12 L242,-2 M229,-62 L220,-85 M180,25 L244,-26 M348,27 L318,62 L274,45 L277,0 L323,-11Z M328,38 L308,49 M323,-11 L330,-28 M244,-26 L308,25 M411,-7 L382,20 L344,10 L333,-27 L362,-54 L400,-43Z M389,-0 L367,7 M362,-54 L354,-83 M308,25 L372,-17 M460,56 L421,60 L396,30 L412,-5 L451,-10 L476,21Z M440,49 L418,41 M412,-5 L392,-29 M451,-10 L462,-33 M372,-17 L436,25 M526,14 L479,17 L461,-24 L497,-53 L537,-29Z M505,9 L483,2 M526,14 L538,28 M497,-53 L496,-75 M436,25 L500,-15 M600,46 L567,67 L531,51 L528,13 L561,-8 L597,8Z M578,49 L555,52 M597,8 L625,-11 M528,13 L503,2 M500,-15 L564,29 M666,-11 L635,14 L597,1 L590,-37 L621,-61 L659,-48Z M644,-6 L621,-1 M621,-61 L617,-86 M635,14 L641,47 M564,29 L628,-24 M716,55 L669,56 L654,14 L691,-13 L730,13Z M695,49 L674,41 M628,-24 L692,25 M795,-13 L770,16 L731,10 L717,-25 L742,-55 L781,-49Z M775,-4 L754,5 M731,10 L708,37 M742,-55 L731,-81 M692,25 L756,-19 M859,33 L832,62 L793,54 L781,17 L808,-11 L847,-3Z M838,41 L817,49 M808,-11 L800,-32 M756,-19 L820,25 M910,-0 L863,4 L845,-37 L880,-67 L921,-44Z M889,-6 L867,-12 M880,-67 L879,-86 M910,-0 L927,18 M820,25 L884,-29 M986,27 L957,53 L919,42 L910,5 L939,-21 L977,-10Z M965,34 L943,40 M884,-29 L948,16 M470,-10 L532,-10 M470,-10 L517,30 M470,-10 L481,51 M470,-10 L439,44 M470,-10 L412,11 M470,-10 L412,-32 M470,-10 L440,-64 M470,-10 L482,-71 M470,-10 L518,-49 M491,-3 L475,11 L454,5 L449,-17 L465,-31 L486,-25Z M508,2 L479,29 L441,17 L432,-22 L461,-49 L499,-37Z M952,60 L937,81 L912,73 L912,47 L937,39Z M722,78 L707,99 L682,91 L682,65 L707,57Z M262,80 L247,101 L222,93 L222,67 L247,59Z" fill="#f0a05c" fill-opacity="0.4" stroke="#6a4520" stroke-width="5" stroke-linejoin="round" opacity="0.9"/></g>
<linearGradient id="pg6" gradientUnits="userSpaceOnUse" x1="700.33" y1="1419.04" x2="726" y2="1460.36"><stop offset="0" stop-color="#fff1de"/><stop offset="0.2" stop-color="#fdd8a6"/><stop offset="0.5" stop-color="#f9b878"/><stop offset="0.8" stop-color="#fdd8a6"/><stop offset="1" stop-color="#fff1de"/></linearGradient>
<path d="M700.33,1419.04 L868.85,1314.33 L868.85,1378.14 L700.33,1476.31Z" fill="url(#pg6)" stroke="#f6f0f8" stroke-width="1.8" opacity="1.0"/>
<clipPath id="pg6c"><path d="M700.33,1419.04 L868.85,1314.33 L868.85,1378.14 L700.33,1476.31Z"/></clipPath>
<g clip-path="url(#pg6c)"><path transform="matrix(0.16347,-0.10157,0.00000,0.20615,702.86,1446.11)" d="M86,37 L51,56 L17,36 L18,-2 L53,-20 L87,-1Z M64,39 L41,39 M17,36 L-14,52 M18,-2 L-8,-16 M156,-28 L128,7 L83,-7 L84,-52 L129,-65Z M137,-17 L117,-5 M84,-52 L65,-65 M128,7 L135,28 M52,18 L116,-29 M214,45 L179,63 L145,44 L146,6 L181,-13 L215,7Z M192,46 L169,47 M181,-13 L181,-39 M215,7 L245,-9 M116,-29 L180,25 M284,-21 L259,9 L219,3 L204,-32 L229,-62 L269,-56Z M263,-12 L242,-2 M229,-62 L220,-85 M180,25 L244,-26 M348,27 L318,62 L274,45 L277,0 L323,-11Z M328,38 L308,49 M323,-11 L330,-28 M244,-26 L308,25 M411,-7 L382,20 L344,10 L333,-27 L362,-54 L400,-43Z M389,-0 L367,7 M362,-54 L354,-83 M308,25 L372,-17 M460,56 L421,60 L396,30 L412,-5 L451,-10 L476,21Z M440,49 L418,41 M412,-5 L392,-29 M451,-10 L462,-33 M372,-17 L436,25 M526,14 L479,17 L461,-24 L497,-53 L537,-29Z M505,9 L483,2 M526,14 L538,28 M497,-53 L496,-75 M436,25 L500,-15 M600,46 L567,67 L531,51 L528,13 L561,-8 L597,8Z M578,49 L555,52 M597,8 L625,-11 M528,13 L503,2 M500,-15 L564,29 M666,-11 L635,14 L597,1 L590,-37 L621,-61 L659,-48Z M644,-6 L621,-1 M621,-61 L617,-86 M635,14 L641,47 M564,29 L628,-24 M716,55 L669,56 L654,14 L691,-13 L730,13Z M695,49 L674,41 M628,-24 L692,25 M795,-13 L770,16 L731,10 L717,-25 L742,-55 L781,-49Z M775,-4 L754,5 M731,10 L708,37 M742,-55 L731,-81 M692,25 L756,-19 M859,33 L832,62 L793,54 L781,17 L808,-11 L847,-3Z M838,41 L817,49 M808,-11 L800,-32 M756,-19 L820,25 M910,-0 L863,4 L845,-37 L880,-67 L921,-44Z M889,-6 L867,-12 M880,-67 L879,-86 M910,-0 L927,18 M820,25 L884,-29 M986,27 L957,53 L919,42 L910,5 L939,-21 L977,-10Z M965,34 L943,40 M884,-29 L948,16 M470,-10 L532,-10 M470,-10 L517,30 M470,-10 L481,51 M470,-10 L439,44 M470,-10 L412,11 M470,-10 L412,-32 M470,-10 L440,-64 M470,-10 L482,-71 M470,-10 L518,-49 M491,-3 L475,11 L454,5 L449,-17 L465,-31 L486,-25Z M508,2 L479,29 L441,17 L432,-22 L461,-49 L499,-37Z M952,60 L937,81 L912,73 L912,47 L937,39Z M722,78 L707,99 L682,91 L682,65 L707,57Z M262,80 L247,101 L222,93 L222,67 L247,59Z" fill="#f0a05c" fill-opacity="0.4" stroke="#6a4520" stroke-width="5" stroke-linejoin="round" opacity="0.9"/></g>
<ellipse cx="505.6" cy="1335.8" rx="45" ry="14.3" fill="none" stroke="#3a3af0" stroke-width="1.2"/>
<line x1="505.6" y1="1335.8" x2="475.52" y2="1340.81" stroke="#4a5ae0" stroke-width="1.1"/><path d="M469.6,1341.8 L475.16,1338.64 L475.88,1342.98Z" fill="#4a5ae0"/>
<line x1="505.6" y1="1335.8" x2="537.67" y2="1330.74" stroke="#4a5ae0" stroke-width="1.1"/><path d="M543.6,1329.8 L538.02,1332.91 L537.33,1328.56Z" fill="#4a5ae0"/>
<line x1="505.6" y1="1335.8" x2="492.59" y2="1327.13" stroke="#4a5ae0" stroke-width="1.1"/><path d="M487.6,1323.8 L493.81,1325.3 L491.37,1328.96Z" fill="#4a5ae0"/>
<line x1="505.6" y1="1335.8" x2="520.46" y2="1344.71" stroke="#4a5ae0" stroke-width="1.1"/><path d="M525.6,1347.8 L519.32,1346.6 L521.59,1342.83Z" fill="#4a5ae0"/>
<line x1="505.6" y1="1292.3" x2="505.6" y2="1361.3" stroke="#e81818" stroke-width="1.4"/><path d="M505.6,1371.3 L502.6,1361.3 L508.6,1361.3Z" fill="#e81818"/>
<line x1="506.6" y1="1371.3" x2="605.81" y2="1313.81" stroke="#10a050" stroke-width="1.5"/><path d="M613.6,1309.3 L607.32,1316.41 L604.31,1311.22Z" fill="#10a050"/>
<line x1="506.6" y1="1373.3" x2="600.74" y2="1425.91" stroke="#3a3af0" stroke-width="1.5"/><path d="M608.6,1430.3 L599.28,1428.53 L602.21,1423.29Z" fill="#3a3af0"/>
<text x="486.6" y="1286.3" font-size="27" font-style="italic" font-family='"Liberation Serif", serif'>hv</text>
<text x="544.6" y="1312.3" font-size="27" fill="#10a050">E<tspan dy="6" font-size="17">X</tspan></text>
<text x="542.6" y="1443.3" font-size="27" fill="#3a3af0">E<tspan dy="6" font-size="15">Y</tspan></text>
<path d="M853.14,1353.6 L853.14,1280.34" stroke="#f21cbc" stroke-width="5.4" fill="none"/><path d="M843.64,1292.34 L853.14,1278.34 L862.64,1292.34" stroke="#f21cbc" stroke-width="5.4" fill="none" stroke-linejoin="miter" stroke-linecap="round"/>
<path d="M857.4,1446.86 L857.4,1522.41" stroke="#c244f2" stroke-width="5.4" fill="none"/><path d="M847.9,1510.41 L857.4,1524.41 L866.9,1510.41" stroke="#c244f2" stroke-width="5.4" fill="none" stroke-linejoin="miter" stroke-linecap="round"/>
<text x="845" y="1269" font-size="27">R<tspan dy="6" font-size="17">2</tspan></text>
<text x="851" y="1555" font-size="27">T<tspan dy="6" font-size="17">2</tspan></text>
<text x="532" y="1490" font-size="27.5" fill="#222">Edge-on</text>
<text x="535.5" y="1528" font-size="27.5" fill="#222">packing</text>
<path d="M638,1490.5 L676,1490.5 L700,1476.5" fill="none" stroke="#b85cf0" stroke-width="2" stroke-dasharray="5 2.5"/>
<radialGradient id="sub3" gradientUnits="userSpaceOnUse" cx="1136.87" cy="1388.78" r="211.06" gradientTransform="translate(0 624.95) scale(1 0.55)"><stop offset="0" stop-color="#8ec2f8"/><stop offset="0.55" stop-color="#b4d0fa"/><stop offset="0.85" stop-color="#dcdcfa"/><stop offset="1" stop-color="#ece8fc"/></radialGradient>
<path d="M925.81,1373.23 L1145.05,1509.03 L1145.05,1516.03 L925.81,1380.23Z" fill="#6e6e72"/>
<path d="M1145.05,1509.03 L1347.93,1389.59 L1347.93,1396.59 L1145.05,1516.03Z" fill="#b4b4b8"/>
<path d="M925.81,1373.23 L1115.6,1268.52 L1347.93,1389.59 L1145.05,1509.03Z" fill="url(#sub3)"/>
<linearGradient id="pg7" gradientUnits="userSpaceOnUse" x1="1050.16" y1="1304.52" x2="1050.16" y2="1360.14"><stop offset="0" stop-color="#fff1de"/><stop offset="0.2" stop-color="#fdd8a6"/><stop offset="0.5" stop-color="#f9b878"/><stop offset="0.8" stop-color="#fdd8a6"/><stop offset="1" stop-color="#fff1de"/></linearGradient>
<path d="M1050.16,1304.52 L1239.95,1304.52 L1202.32,1360.14 L1012.53,1360.14Z" fill="url(#pg7)" stroke="#f6f0f8" stroke-width="1.8" opacity="1.0"/>
<clipPath id="pg7c"><path d="M1050.16,1304.52 L1239.95,1304.52 L1202.32,1360.14 L1012.53,1360.14Z"/></clipPath>
<g clip-path="url(#pg7c)"><path transform="matrix(0.18410,0.00000,-0.13547,0.20026,1034.19,1332.33)" d="M86,37 L51,56 L17,36 L18,-2 L53,-20 L87,-1Z M64,39 L41,39 M17,36 L-14,52 M18,-2 L-8,-16 M156,-28 L128,7 L83,-7 L84,-52 L129,-65Z M137,-17 L117,-5 M84,-52 L65,-65 M128,7 L135,28 M52,18 L116,-29 M214,45 L179,63 L145,44 L146,6 L181,-13 L215,7Z M192,46 L169,47 M181,-13 L181,-39 M215,7 L245,-9 M116,-29 L180,25 M284,-21 L259,9 L219,3 L204,-32 L229,-62 L269,-56Z M263,-12 L242,-2 M229,-62 L220,-85 M180,25 L244,-26 M348,27 L318,62 L274,45 L277,0 L323,-11Z M328,38 L308,49 M323,-11 L330,-28 M244,-26 L308,25 M411,-7 L382,20 L344,10 L333,-27 L362,-54 L400,-43Z M389,-0 L367,7 M362,-54 L354,-83 M308,25 L372,-17 M460,56 L421,60 L396,30 L412,-5 L451,-10 L476,21Z M440,49 L418,41 M412,-5 L392,-29 M451,-10 L462,-33 M372,-17 L436,25 M526,14 L479,17 L461,-24 L497,-53 L537,-29Z M505,9 L483,2 M526,14 L538,28 M497,-53 L496,-75 M436,25 L500,-15 M600,46 L567,67 L531,51 L528,13 L561,-8 L597,8Z M578,49 L555,52 M597,8 L625,-11 M528,13 L503,2 M500,-15 L564,29 M666,-11 L635,14 L597,1 L590,-37 L621,-61 L659,-48Z M644,-6 L621,-1 M621,-61 L617,-86 M635,14 L641,47 M564,29 L628,-24 M716,55 L669,56 L654,14 L691,-13 L730,13Z M695,49 L674,41 M628,-24 L692,25 M795,-13 L770,16 L731,10 L717,-25 L742,-55 L781,-49Z M775,-4 L754,5 M731,10 L708,37 M742,-55 L731,-81 M692,25 L756,-19 M859,33 L832,62 L793,54 L781,17 L808,-11 L847,-3Z M838,41 L817,49 M808,-11 L800,-32 M756,-19 L820,25 M910,-0 L863,4 L845,-37 L880,-67 L921,-44Z M889,-6 L867,-12 M880,-67 L879,-86 M910,-0 L927,18 M820,25 L884,-29 M986,27 L957,53 L919,42 L910,5 L939,-21 L977,-10Z M965,34 L943,40 M884,-29 L948,16 M470,-10 L532,-10 M470,-10 L517,30 M470,-10 L481,51 M470,-10 L439,44 M470,-10 L412,11 M470,-10 L412,-32 M470,-10 L440,-64 M470,-10 L482,-71 M470,-10 L518,-49 M491,-3 L475,11 L454,5 L449,-17 L465,-31 L486,-25Z M508,2 L479,29 L441,17 L432,-22 L461,-49 L499,-37Z M952,60 L937,81 L912,73 L912,47 L937,39Z M722,78 L707,99 L682,91 L682,65 L707,57Z M262,80 L247,101 L222,93 L222,67 L247,59Z" fill="#f0a05c" fill-opacity="0.4" stroke="#6a4520" stroke-width="4" stroke-linejoin="round" opacity="0.9"/></g>
<radialGradient id="amo" cx="0.5" cy="0.45" r="0.6"><stop offset="0" stop-color="#3f90ea"/><stop offset="1" stop-color="#8cc0f6"/></radialGradient>
<path d="M1063.25,1360.14 L1202.32,1360.14 L1131.96,1396.14 L1115.6,1423.95Z" fill="url(#amo)"/>
<linearGradient id="pg8" gradientUnits="userSpaceOnUse" x1="1259.58" y1="1137.63" x2="1324.42" y2="1140.76"><stop offset="0" stop-color="#fff1de"/><stop offset="0.2" stop-color="#fdd8a6"/><stop offset="0.5" stop-color="#f9b878"/><stop offset="0.8" stop-color="#fdd8a6"/><stop offset="1" stop-color="#fff1de"/></linearGradient>
<path d="M1259.58,1137.63 L1248.13,1374.87 L1300.48,1391.23 L1323.39,1162.17Z" fill="url(#pg8)" stroke="#f6f0f8" stroke-width="1.8" opacity="1.0"/>
<clipPath id="pg8c"><path d="M1259.58,1137.63 L1248.13,1374.87 L1300.48,1391.23 L1323.39,1162.17Z"/></clipPath>
<g clip-path="url(#pg8c)"><path transform="matrix(-0.01111,0.23012,0.22971,0.08835,1291.31,1153.46)" d="M86,37 L51,56 L17,36 L18,-2 L53,-20 L87,-1Z M64,39 L41,39 M17,36 L-14,52 M18,-2 L-8,-16 M156,-28 L128,7 L83,-7 L84,-52 L129,-65Z M137,-17 L117,-5 M84,-52 L65,-65 M128,7 L135,28 M52,18 L116,-29 M214,45 L179,63 L145,44 L146,6 L181,-13 L215,7Z M192,46 L169,47 M181,-13 L181,-39 M215,7 L245,-9 M116,-29 L180,25 M284,-21 L259,9 L219,3 L204,-32 L229,-62 L269,-56Z M263,-12 L242,-2 M229,-62 L220,-85 M180,25 L244,-26 M348,27 L318,62 L274,45 L277,0 L323,-11Z M328,38 L308,49 M323,-11 L330,-28 M244,-26 L308,25 M411,-7 L382,20 L344,10 L333,-27 L362,-54 L400,-43Z M389,-0 L367,7 M362,-54 L354,-83 M308,25 L372,-17 M460,56 L421,60 L396,30 L412,-5 L451,-10 L476,21Z M440,49 L418,41 M412,-5 L392,-29 M451,-10 L462,-33 M372,-17 L436,25 M526,14 L479,17 L461,-24 L497,-53 L537,-29Z M505,9 L483,2 M526,14 L538,28 M497,-53 L496,-75 M436,25 L500,-15 M600,46 L567,67 L531,51 L528,13 L561,-8 L597,8Z M578,49 L555,52 M597,8 L625,-11 M528,13 L503,2 M500,-15 L564,29 M666,-11 L635,14 L597,1 L590,-37 L621,-61 L659,-48Z M644,-6 L621,-1 M621,-61 L617,-86 M635,14 L641,47 M564,29 L628,-24 M716,55 L669,56 L654,14 L691,-13 L730,13Z M695,49 L674,41 M628,-24 L692,25 M795,-13 L770,16 L731,10 L717,-25 L742,-55 L781,-49Z M775,-4 L754,5 M731,10 L708,37 M742,-55 L731,-81 M692,25 L756,-19 M859,33 L832,62 L793,54 L781,17 L808,-11 L847,-3Z M838,41 L817,49 M808,-11 L800,-32 M756,-19 L820,25 M910,-0 L863,4 L845,-37 L880,-67 L921,-44Z M889,-6 L867,-12 M880,-67 L879,-86 M910,-0 L927,18 M820,25 L884,-29 M986,27 L957,53 L919,42 L910,5 L939,-21 L977,-10Z M965,34 L943,40 M884,-29 L948,16 M470,-10 L532,-10 M470,-10 L517,30 M470,-10 L481,51 M470,-10 L439,44 M470,-10 L412,11 M470,-10 L412,-32 M470,-10 L440,-64 M470,-10 L482,-71 M470,-10 L518,-49 M491,-3 L475,11 L454,5 L449,-17 L465,-31 L486,-25Z M508,2 L479,29 L441,17 L432,-22 L461,-49 L499,-37Z M952,60 L937,81 L912,73 L912,47 L937,39Z M722,78 L707,99 L682,91 L682,65 L707,57Z M262,80 L247,101 L222,93 L222,67 L247,59Z" fill="#f0a05c" fill-opacity="0.4" stroke="#6a4520" stroke-width="4.4" stroke-linejoin="round" opacity="0.9"/></g>
<linearGradient id="pg9" gradientUnits="userSpaceOnUse" x1="1130.33" y1="1396.14" x2="1166.57" y2="1458.52"><stop offset="0" stop-color="#fff1de"/><stop offset="0.2" stop-color="#fdd8a6"/><stop offset="0.5" stop-color="#f9b878"/><stop offset="0.8" stop-color="#fdd8a6"/><stop offset="1" stop-color="#fff1de"/></linearGradient>
<path d="M1130.33,1396.14 L1251.4,1325.79 L1251.4,1409.23 L1144.4,1471.4Z" fill="url(#pg9)" stroke="#f6f0f8" stroke-width="1.8" opacity="1.0"/>
<clipPath id="pg9c"><path d="M1130.33,1396.14 L1251.4,1325.79 L1251.4,1409.23 L1144.4,1471.4Z"/></clipPath>
<g clip-path="url(#pg9c)"><path transform="matrix(0.11744,-0.06824,0.05065,0.27094,1139.18,1432.71)" d="M86,37 L51,56 L17,36 L18,-2 L53,-20 L87,-1Z M64,39 L41,39 M17,36 L-14,52 M18,-2 L-8,-16 M156,-28 L128,7 L83,-7 L84,-52 L129,-65Z M137,-17 L117,-5 M84,-52 L65,-65 M128,7 L135,28 M52,18 L116,-29 M214,45 L179,63 L145,44 L146,6 L181,-13 L215,7Z M192,46 L169,47 M181,-13 L181,-39 M215,7 L245,-9 M116,-29 L180,25 M284,-21 L259,9 L219,3 L204,-32 L229,-62 L269,-56Z M263,-12 L242,-2 M229,-62 L220,-85 M180,25 L244,-26 M348,27 L318,62 L274,45 L277,0 L323,-11Z M328,38 L308,49 M323,-11 L330,-28 M244,-26 L308,25 M411,-7 L382,20 L344,10 L333,-27 L362,-54 L400,-43Z M389,-0 L367,7 M362,-54 L354,-83 M308,25 L372,-17 M460,56 L421,60 L396,30 L412,-5 L451,-10 L476,21Z M440,49 L418,41 M412,-5 L392,-29 M451,-10 L462,-33 M372,-17 L436,25 M526,14 L479,17 L461,-24 L497,-53 L537,-29Z M505,9 L483,2 M526,14 L538,28 M497,-53 L496,-75 M436,25 L500,-15 M600,46 L567,67 L531,51 L528,13 L561,-8 L597,8Z M578,49 L555,52 M597,8 L625,-11 M528,13 L503,2 M500,-15 L564,29 M666,-11 L635,14 L597,1 L590,-37 L621,-61 L659,-48Z M644,-6 L621,-1 M621,-61 L617,-86 M635,14 L641,47 M564,29 L628,-24 M716,55 L669,56 L654,14 L691,-13 L730,13Z M695,49 L674,41 M628,-24 L692,25 M795,-13 L770,16 L731,10 L717,-25 L742,-55 L781,-49Z M775,-4 L754,5 M731,10 L708,37 M742,-55 L731,-81 M692,25 L756,-19 M859,33 L832,62 L793,54 L781,17 L808,-11 L847,-3Z M838,41 L817,49 M808,-11 L800,-32 M756,-19 L820,25 M910,-0 L863,4 L845,-37 L880,-67 L921,-44Z M889,-6 L867,-12 M880,-67 L879,-86 M910,-0 L927,18 M820,25 L884,-29 M986,27 L957,53 L919,42 L910,5 L939,-21 L977,-10Z M965,34 L943,40 M884,-29 L948,16 M470,-10 L532,-10 M470,-10 L517,30 M470,-10 L481,51 M470,-10 L439,44 M470,-10 L412,11 M470,-10 L412,-32 M470,-10 L440,-64 M470,-10 L482,-71 M470,-10 L518,-49 M491,-3 L475,11 L454,5 L449,-17 L465,-31 L486,-25Z M508,2 L479,29 L441,17 L432,-22 L461,-49 L499,-37Z M952,60 L937,81 L912,73 L912,47 L937,39Z M722,78 L707,99 L682,91 L682,65 L707,57Z M262,80 L247,101 L222,93 L222,67 L247,59Z" fill="#f0a05c" fill-opacity="0.4" stroke="#6a4520" stroke-width="5" stroke-linejoin="round" opacity="0.9"/></g>
<linearGradient id="pg10" gradientUnits="userSpaceOnUse" x1="1010.89" y1="1325.79" x2="982.26" y2="1354.77"><stop offset="0" stop-color="#fff1de"/><stop offset="0.2" stop-color="#fdd8a6"/><stop offset="0.5" stop-color="#f9b878"/><stop offset="0.8" stop-color="#fdd8a6"/><stop offset="1" stop-color="#fff1de"/></linearGradient>
<path d="M1010.89,1325.79 L1143.42,1456.68 L1143.42,1520.48 L1010.89,1383.05Z" fill="url(#pg10)" stroke="#f6f0f8" stroke-width="1.8" opacity="1.0"/>
<clipPath id="pg10c"><path d="M1010.89,1325.79 L1143.42,1456.68 L1143.42,1520.48 L1010.89,1383.05Z"/></clipPath>
<g clip-path="url(#pg10c)"><path transform="matrix(0.12855,0.12696,0.00000,0.20615,1012.88,1356.38)" d="M86,37 L51,56 L17,36 L18,-2 L53,-20 L87,-1Z M64,39 L41,39 M17,36 L-14,52 M18,-2 L-8,-16 M156,-28 L128,7 L83,-7 L84,-52 L129,-65Z M137,-17 L117,-5 M84,-52 L65,-65 M128,7 L135,28 M52,18 L116,-29 M214,45 L179,63 L145,44 L146,6 L181,-13 L215,7Z M192,46 L169,47 M181,-13 L181,-39 M215,7 L245,-9 M116,-29 L180,25 M284,-21 L259,9 L219,3 L204,-32 L229,-62 L269,-56Z M263,-12 L242,-2 M229,-62 L220,-85 M180,25 L244,-26 M348,27 L318,62 L274,45 L277,0 L323,-11Z M328,38 L308,49 M323,-11 L330,-28 M244,-26 L308,25 M411,-7 L382,20 L344,10 L333,-27 L362,-54 L400,-43Z M389,-0 L367,7 M362,-54 L354,-83 M308,25 L372,-17 M460,56 L421,60 L396,30 L412,-5 L451,-10 L476,21Z M440,49 L418,41 M412,-5 L392,-29 M451,-10 L462,-33 M372,-17 L436,25 M526,14 L479,17 L461,-24 L497,-53 L537,-29Z M505,9 L483,2 M526,14 L538,28 M497,-53 L496,-75 M436,25 L500,-15 M600,46 L567,67 L531,51 L528,13 L561,-8 L597,8Z M578,49 L555,52 M597,8 L625,-11 M528,13 L503,2 M500,-15 L564,29 M666,-11 L635,14 L597,1 L590,-37 L621,-61 L659,-48Z M644,-6 L621,-1 M621,-61 L617,-86 M635,14 L641,47 M564,29 L628,-24 M716,55 L669,56 L654,14 L691,-13 L730,13Z M695,49 L674,41 M628,-24 L692,25 M795,-13 L770,16 L731,10 L717,-25 L742,-55 L781,-49Z M775,-4 L754,5 M731,10 L708,37 M742,-55 L731,-81 M692,25 L756,-19 M859,33 L832,62 L793,54 L781,17 L808,-11 L847,-3Z M838,41 L817,49 M808,-11 L800,-32 M756,-19 L820,25 M910,-0 L863,4 L845,-37 L880,-67 L921,-44Z M889,-6 L867,-12 M880,-67 L879,-86 M910,-0 L927,18 M820,25 L884,-29 M986,27 L957,53 L919,42 L910,5 L939,-21 L977,-10Z M965,34 L943,40 M884,-29 L948,16 M470,-10 L532,-10 M470,-10 L517,30 M470,-10 L481,51 M470,-10 L439,44 M470,-10 L412,11 M470,-10 L412,-32 M470,-10 L440,-64 M470,-10 L482,-71 M470,-10 L518,-49 M491,-3 L475,11 L454,5 L449,-17 L465,-31 L486,-25Z M508,2 L479,29 L441,17 L432,-22 L461,-49 L499,-37Z M952,60 L937,81 L912,73 L912,47 L937,39Z M722,78 L707,99 L682,91 L682,65 L707,57Z M262,80 L247,101 L222,93 L222,67 L247,59Z" fill="#f0a05c" fill-opacity="0.4" stroke="#6a4520" stroke-width="5" stroke-linejoin="round" opacity="0.9"/></g>
<line x1="1238.31" y1="1306.15" x2="1194.14" y2="1361.78" stroke="#333" stroke-width="1"/>
<ellipse cx="925.8" cy="1335.8" rx="45" ry="14.3" fill="none" stroke="#3a3af0" stroke-width="1.2"/>
<line x1="925.8" y1="1335.8" x2="895.72" y2="1340.81" stroke="#4a5ae0" stroke-width="1.1"/><path d="M889.8,1341.8 L895.36,1338.64 L896.08,1342.98Z" fill="#4a5ae0"/>
<line x1="925.8" y1="1335.8" x2="957.87" y2="1330.74" stroke="#4a5ae0" stroke-width="1.1"/><path d="M963.8,1329.8 L958.22,1332.91 L957.53,1328.56Z" fill="#4a5ae0"/>
<line x1="925.8" y1="1335.8" x2="912.79" y2="1327.13" stroke="#4a5ae0" stroke-width="1.1"/><path d="M907.8,1323.8 L914.01,1325.3 L911.57,1328.96Z" fill="#4a5ae0"/>
<line x1="925.8" y1="1335.8" x2="940.66" y2="1344.71" stroke="#4a5ae0" stroke-width="1.1"/><path d="M945.8,1347.8 L939.52,1346.6 L941.79,1342.83Z" fill="#4a5ae0"/>
<line x1="925.8" y1="1292.3" x2="925.8" y2="1361.3" stroke="#e81818" stroke-width="1.4"/><path d="M925.8,1371.3 L922.8,1361.3 L928.8,1361.3Z" fill="#e81818"/>
<line x1="926.8" y1="1371.3" x2="1026.01" y2="1313.81" stroke="#10a050" stroke-width="1.5"/><path d="M1033.8,1309.3 L1027.52,1316.41 L1024.51,1311.22Z" fill="#10a050"/>
<line x1="926.8" y1="1373.3" x2="1020.94" y2="1425.91" stroke="#3a3af0" stroke-width="1.5"/><path d="M1028.8,1430.3 L1019.48,1428.53 L1022.41,1423.29Z" fill="#3a3af0"/>
<text x="906.8" y="1286.3" font-size="27" font-style="italic" font-family='"Liberation Serif", serif'>hv</text>
<text x="964.8" y="1312.3" font-size="27" fill="#10a050">E<tspan dy="6" font-size="17">X</tspan></text>
<text x="962.8" y="1443.3" font-size="27" fill="#3a3af0">E<tspan dy="6" font-size="15">Y</tspan></text>
<path d="M1279.87,1355.24 L1279.87,1314.04" stroke="#f21cbc" stroke-width="5" fill="none"/><path d="M1271.87,1324.04 L1279.87,1312.04 L1287.87,1324.04" stroke="#f21cbc" stroke-width="5" fill="none" stroke-linejoin="miter" stroke-linecap="round"/>
<path d="M1285.76,1447.51 L1285.76,1550.23" stroke="#c244f2" stroke-width="5.4" fill="none"/><path d="M1276.26,1538.23 L1285.76,1552.23 L1295.26,1538.23" stroke="#c244f2" stroke-width="5.4" fill="none" stroke-linejoin="miter" stroke-linecap="round"/>
<text x="1275.5" y="1303" font-size="27">R<tspan dy="6" font-size="17">3</tspan></text>
<text x="1279" y="1583" font-size="27">T<tspan dy="6" font-size="17">3</tspan></text>
<text x="1088.5" y="1228.5" font-size="28" fill="#222">End-on</text>
<text x="1085" y="1265" font-size="28" fill="#222">packing</text>
<text x="1052" y="1372" font-size="28.8" fill="#142040">amorphous</text>
<path d="M1187,1229.5 L1221,1229.5 L1247,1254" fill="none" stroke="#b85cf0" stroke-width="2" stroke-dasharray="5 2.5"/>
</g>
<g id="panel-b">
<rect x="1517.7" y="90.2" width="502.7" height="410.3" fill="#fff" stroke="#000" stroke-width="2.2"/>
<line x1="1508.7" y1="500.5" x2="1517.7" y2="500.5" stroke="#000" stroke-width="2.2" />
<text x="1503.7" y="510.1" font-size="28" text-anchor="end">0.06</text>
<line x1="1512.7" y1="471.19" x2="1517.7" y2="471.19" stroke="#000" stroke-width="2.2" />
<line x1="1508.7" y1="441.89" x2="1517.7" y2="441.89" stroke="#000" stroke-width="2.2" />
<text x="1503.7" y="451.49" font-size="28" text-anchor="end">0.08</text>
<line x1="1512.7" y1="412.58" x2="1517.7" y2="412.58" stroke="#000" stroke-width="2.2" />
<line x1="1508.7" y1="383.27" x2="1517.7" y2="383.27" stroke="#000" stroke-width="2.2" />
<text x="1503.7" y="392.87" font-size="28" text-anchor="end">0.10</text>
<line x1="1512.7" y1="353.96" x2="1517.7" y2="353.96" stroke="#000" stroke-width="2.2" />
<line x1="1508.7" y1="324.66" x2="1517.7" y2="324.66" stroke="#000" stroke-width="2.2" />
<text x="1503.7" y="334.26" font-size="28" text-anchor="end">0.12</text>
<line x1="1512.7" y1="295.35" x2="1517.7" y2="295.35" stroke="#000" stroke-width="2.2" />
<line x1="1508.7" y1="266.04" x2="1517.7" y2="266.04" stroke="#000" stroke-width="2.2" />
<text x="1503.7" y="275.64" font-size="28" text-anchor="end">0.14</text>
<line x1="1512.7" y1="236.74" x2="1517.7" y2="236.74" stroke="#000" stroke-width="2.2" />
<line x1="1508.7" y1="207.43" x2="1517.7" y2="207.43" stroke="#000" stroke-width="2.2" />
<text x="1503.7" y="217.03" font-size="28" text-anchor="end">0.16</text>
<line x1="1512.7" y1="178.12" x2="1517.7" y2="178.12" stroke="#000" stroke-width="2.2" />
<line x1="1508.7" y1="148.81" x2="1517.7" y2="148.81" stroke="#000" stroke-width="2.2" />
<text x="1503.7" y="158.41" font-size="28" text-anchor="end">0.18</text>
<line x1="1512.7" y1="119.51" x2="1517.7" y2="119.51" stroke="#000" stroke-width="2.2" />
<line x1="1508.7" y1="90.2" x2="1517.7" y2="90.2" stroke="#000" stroke-width="2.2" />
<text x="1503.7" y="99.8" font-size="28" text-anchor="end">0.20</text>
<line x1="1517.7" y1="500.5" x2="1517.7" y2="509.5" stroke="#000" stroke-width="2.2" />
<text x="1517.7" y="535.5" font-size="28" text-anchor="middle">85</text>
<line x1="1549.12" y1="500.5" x2="1549.12" y2="505.5" stroke="#000" stroke-width="2.2" />
<line x1="1580.54" y1="500.5" x2="1580.54" y2="509.5" stroke="#000" stroke-width="2.2" />
<text x="1580.54" y="535.5" font-size="28" text-anchor="middle">80</text>
<line x1="1611.96" y1="500.5" x2="1611.96" y2="505.5" stroke="#000" stroke-width="2.2" />
<line x1="1643.38" y1="500.5" x2="1643.38" y2="509.5" stroke="#000" stroke-width="2.2" />
<text x="1643.38" y="535.5" font-size="28" text-anchor="middle">75</text>
<line x1="1674.79" y1="500.5" x2="1674.79" y2="505.5" stroke="#000" stroke-width="2.2" />
<line x1="1706.21" y1="500.5" x2="1706.21" y2="509.5" stroke="#000" stroke-width="2.2" />
<text x="1706.21" y="535.5" font-size="28" text-anchor="middle">70</text>
<line x1="1737.63" y1="500.5" x2="1737.63" y2="505.5" stroke="#000" stroke-width="2.2" />
<line x1="1769.05" y1="500.5" x2="1769.05" y2="509.5" stroke="#000" stroke-width="2.2" />
<text x="1769.05" y="535.5" font-size="28" text-anchor="middle">65</text>
<line x1="1800.47" y1="500.5" x2="1800.47" y2="505.5" stroke="#000" stroke-width="2.2" />
<line x1="1831.89" y1="500.5" x2="1831.89" y2="509.5" stroke="#000" stroke-width="2.2" />
<text x="1831.89" y="535.5" font-size="28" text-anchor="middle">60</text>
<line x1="1863.31" y1="500.5" x2="1863.31" y2="505.5" stroke="#000" stroke-width="2.2" />
<line x1="1894.73" y1="500.5" x2="1894.73" y2="509.5" stroke="#000" stroke-width="2.2" />
<text x="1894.73" y="535.5" font-size="28" text-anchor="middle">55</text>
<line x1="1926.14" y1="500.5" x2="1926.14" y2="505.5" stroke="#000" stroke-width="2.2" />
<line x1="1957.56" y1="500.5" x2="1957.56" y2="509.5" stroke="#000" stroke-width="2.2" />
<text x="1957.56" y="535.5" font-size="28" text-anchor="middle">50</text>
<line x1="1988.98" y1="500.5" x2="1988.98" y2="505.5" stroke="#000" stroke-width="2.2" />
<line x1="2020.4" y1="500.5" x2="2020.4" y2="509.5" stroke="#000" stroke-width="2.2" />
<text x="2020.4" y="535.5" font-size="28" text-anchor="middle">45</text>
<text x="1774" y="571" font-size="35" text-anchor="middle">Angle (<tspan dy="-11" font-size="22">o</tspan><tspan dy="11">)</tspan></text>
<text x="1438.5" y="296" font-size="35" text-anchor="middle" transform="rotate(-90 1438.5 296)">Orientation ratio</text>
<path d="M1542.84,175.19 C1551.21,198.78 1576.35,288.17 1593.11,316.74 C1609.86,345.32 1626.62,338.48 1643.38,346.64 C1660.13,354.79 1676.89,357.14 1693.64,365.69 C1710.4,374.24 1727.16,388.89 1743.91,397.93 C1760.67,406.96 1777.43,412.97 1794.18,419.91 C1810.94,426.84 1827.7,435.39 1844.45,439.54 C1861.21,443.69 1877.97,441.01 1894.73,444.82 C1911.48,448.63 1928.24,459.13 1945,462.4 C1961.75,465.67 1986.89,464.11 1995.27,464.45" fill="none" stroke="#ff8000" stroke-width="3"/>
<path d="M1542.84,118.63 C1551.21,145.64 1576.35,244.16 1593.11,280.7 C1609.86,317.23 1626.62,320.02 1643.38,337.85 C1660.13,355.67 1676.89,373.65 1693.64,387.67 C1710.4,401.69 1727.16,412.77 1743.91,421.96 C1760.67,431.14 1777.43,438.71 1794.18,442.76 C1810.94,446.82 1827.7,443.01 1844.45,446.28 C1861.21,449.55 1877.97,459.23 1894.73,462.4 C1911.48,465.58 1928.24,464.01 1945,465.33 C1961.75,466.65 1986.89,469.48 1995.27,470.31" fill="none" stroke="#8000ff" stroke-width="3"/>
<circle cx="1542.84" cy="175.19" r="4.8" fill="#ff8000"/>
<circle cx="1593.11" cy="316.74" r="4.8" fill="#ff8000"/>
<circle cx="1643.38" cy="346.64" r="4.8" fill="#ff8000"/>
<circle cx="1693.64" cy="365.69" r="4.8" fill="#ff8000"/>
<circle cx="1743.91" cy="397.93" r="4.8" fill="#ff8000"/>
<circle cx="1794.18" cy="419.91" r="4.8" fill="#ff8000"/>
<circle cx="1844.45" cy="439.54" r="4.8" fill="#ff8000"/>
<circle cx="1894.73" cy="444.82" r="4.8" fill="#ff8000"/>
<circle cx="1945" cy="462.4" r="4.8" fill="#ff8000"/>
<circle cx="1995.27" cy="464.45" r="4.8" fill="#ff8000"/>
<rect x="1538.34" y="114.13" width="9" height="9" fill="#8000ff"/>
<rect x="1588.61" y="276.2" width="9" height="9" fill="#8000ff"/>
<rect x="1638.88" y="333.35" width="9" height="9" fill="#8000ff"/>
<rect x="1689.14" y="383.17" width="9" height="9" fill="#8000ff"/>
<rect x="1739.41" y="417.46" width="9" height="9" fill="#8000ff"/>
<rect x="1789.68" y="438.26" width="9" height="9" fill="#8000ff"/>
<rect x="1839.95" y="441.78" width="9" height="9" fill="#8000ff"/>
<rect x="1890.23" y="457.9" width="9" height="9" fill="#8000ff"/>
<rect x="1940.5" y="460.83" width="9" height="9" fill="#8000ff"/>
<rect x="1990.77" y="465.81" width="9" height="9" fill="#8000ff"/>
<rect x="1725.5" y="112" width="261.5" height="69" fill="#000"/>
<rect x="1719.5" y="106" width="261.5" height="69" fill="#fff" stroke="#000" stroke-width="1.2"/>
<line x1="1725.5" y1="127" x2="1772.5" y2="127" stroke="#ff8000" stroke-width="3" />
<circle cx="1749" cy="127" r="4.8" fill="#ff8000"/>
<line x1="1725.5" y1="158" x2="1772.5" y2="158" stroke="#8000ff" stroke-width="3" />
<rect x="1744.5" y="153.5" width="9" height="9" fill="#8000ff"/>
<text x="1778.5" y="134.3" font-size="25">Y6 (300) - as cast</text>
<text x="1778.5" y="165.3" font-size="25">Y6 (300) - TA</text>
</g>
<g id="panel-d">
<rect x="1517" y="617.5" width="503.7" height="410" fill="#fff"/>
<path d="M1517,775.54 C1517.6,775.91 1519.4,776.78 1520.6,777.77 C1521.8,778.77 1522.88,781 1524.2,781.5 C1525.51,782 1527.07,780.38 1528.51,780.75 C1529.95,781.13 1531.39,782.74 1532.83,783.74 C1534.27,784.73 1535.83,786.59 1537.15,786.72 C1538.47,786.84 1539.67,785.1 1540.75,784.48 C1541.83,783.86 1542.66,782.25 1543.62,782.99 C1544.58,783.74 1545.42,786.72 1546.5,788.95 C1547.58,791.19 1549.02,794.42 1550.1,796.41 C1551.18,798.4 1551.9,798.15 1552.98,800.88 C1554.06,803.62 1555.38,808.58 1556.58,812.81 C1557.78,817.03 1558.38,818.77 1560.17,826.23 C1561.97,833.68 1564.97,847.35 1567.37,857.54 C1569.77,867.72 1572.17,878.28 1574.57,887.35 C1576.96,896.42 1579.36,905 1581.76,911.95 C1584.16,918.91 1585.36,922.52 1588.96,929.1 C1592.55,935.68 1598.55,945.75 1603.35,951.46 C1608.15,957.18 1612.94,960.41 1617.74,963.39 C1622.54,966.37 1627.93,968.11 1632.13,969.35 C1636.33,970.6 1638.13,970.97 1642.92,970.85 C1647.72,970.72 1655.52,969.23 1660.91,968.61 C1666.31,967.99 1670.51,967.12 1675.31,967.12 C1680.1,967.12 1685.5,968.24 1689.7,968.61 C1693.89,968.98 1696.89,969.48 1700.49,969.35 C1704.09,969.23 1707.69,969.35 1711.28,967.86 C1714.88,966.37 1718.48,964.14 1722.08,960.41 C1725.68,956.68 1728.67,951.71 1732.87,945.5 C1737.07,939.29 1742.47,930.59 1747.26,923.14 C1752.06,915.68 1756.86,907.61 1761.65,900.77 C1766.45,893.94 1771.25,888.35 1776.05,882.14 C1780.84,875.92 1785.64,870.08 1790.44,863.5 C1795.23,856.92 1800.03,848.84 1804.83,842.63 C1809.63,836.42 1814.42,831.82 1819.22,826.23 C1824.02,820.64 1828.81,814.67 1833.61,809.08 C1838.41,803.49 1843.21,798.52 1848,792.68 C1852.8,786.84 1857.6,780.26 1862.39,774.05 C1867.19,767.83 1871.99,761.62 1876.79,755.41 C1881.58,749.2 1886.38,742.98 1891.18,736.77 C1895.97,730.56 1900.77,724.35 1905.57,718.14 C1910.37,711.92 1915.16,705.71 1919.96,699.5 C1924.76,693.29 1930.75,685.21 1934.35,680.86 C1937.95,676.52 1939.63,675.02 1941.55,673.41 C1943.47,671.79 1944.07,670.55 1945.86,671.17 C1947.66,671.79 1949.46,672.42 1952.34,677.14 C1955.22,681.86 1959.54,690.18 1963.13,699.5 C1966.73,708.82 1970.93,723.35 1973.93,733.05 C1976.93,742.74 1979.32,752.05 1981.12,757.65 C1982.92,763.24 1982.92,763.86 1984.72,766.59 C1986.52,769.32 1988.32,770.32 1991.92,774.05 C1995.52,777.77 2001.51,783.98 2006.31,788.95 C2011.11,793.92 2018.3,801.38 2020.7,803.86" fill="none" stroke="#ffa040" stroke-width="3.4" stroke-linejoin="round"/>
<path d="M1517,747.21 C1517.72,747.95 1519.88,750.44 1521.32,751.68 C1522.76,752.92 1524.32,754.66 1525.63,754.66 C1526.95,754.66 1528.03,751.68 1529.23,751.68 C1530.43,751.68 1531.51,753.17 1532.83,754.66 C1534.15,756.15 1536.07,759.38 1537.15,760.63 C1538.23,761.87 1538.47,762.37 1539.31,762.12 C1540.15,761.87 1541.11,758.39 1542.18,759.14 C1543.26,759.88 1544.58,763.86 1545.78,766.59 C1546.98,769.32 1548.3,773.55 1549.38,775.54 C1550.46,777.52 1551.42,777.03 1552.26,778.52 C1553.1,780.01 1553.1,779.64 1554.42,784.48 C1555.74,789.33 1558.02,798.15 1560.17,807.59 C1562.33,817.03 1564.97,829.33 1567.37,841.14 C1569.77,852.94 1572.17,867.85 1574.57,878.41 C1576.96,888.97 1579.36,897.05 1581.76,904.5 C1584.16,911.95 1585.36,915.68 1588.96,923.14 C1592.55,930.59 1598.55,942.64 1603.35,949.23 C1608.15,955.81 1612.94,959.29 1617.74,962.65 C1622.54,966 1627.93,967.86 1632.13,969.35 C1636.33,970.85 1638.13,971.59 1642.92,971.59 C1647.72,971.59 1655.52,970.22 1660.91,969.35 C1666.31,968.48 1670.51,967.24 1675.31,966.37 C1680.1,965.5 1684.9,964.51 1689.7,964.14 C1694.49,963.76 1699.89,964.51 1704.09,964.14 C1708.29,963.76 1711.28,963.76 1714.88,961.9 C1718.48,960.04 1722.68,955.69 1725.68,952.95 C1728.67,950.22 1729.27,950.84 1732.87,945.5 C1736.47,940.16 1742.47,928.98 1747.26,920.9 C1752.06,912.82 1756.86,904.13 1761.65,897.05 C1766.45,889.96 1771.25,884 1776.05,878.41 C1780.84,872.82 1785.64,868.47 1790.44,863.5 C1795.23,858.53 1800.03,854.18 1804.83,848.59 C1809.63,843 1814.42,835.92 1819.22,829.95 C1824.02,823.99 1828.81,817.16 1833.61,812.81 C1838.41,808.46 1843.81,806.6 1848,803.86 C1852.2,801.13 1855.2,800.14 1858.8,796.41 C1862.39,792.68 1866.59,786.1 1869.59,781.5 C1872.59,776.9 1873.19,776.28 1876.79,768.83 C1880.38,761.37 1886.38,747.71 1891.18,736.77 C1895.97,725.84 1900.77,712.17 1905.57,703.23 C1910.37,694.28 1915.76,688.69 1919.96,683.1 C1924.16,677.51 1927.16,676.27 1930.75,669.68 C1934.35,663.1 1938.55,649.55 1941.55,643.59 C1944.55,637.63 1946.94,635.76 1948.74,633.9 C1950.54,632.04 1950.54,631.42 1952.34,632.41 C1954.14,633.4 1956.54,633.65 1959.54,639.86 C1962.53,646.08 1966.73,658.5 1970.33,669.68 C1973.93,680.86 1978.73,699.13 1981.12,706.95 C1983.52,714.78 1981.72,711.68 1984.72,716.65 C1987.72,721.62 1994.92,730.68 1999.11,736.77 C2003.31,742.86 2006.31,747.58 2009.91,753.17 C2013.5,758.76 2018.9,767.46 2020.7,770.32" fill="none" stroke="#a448ff" stroke-width="2.9" stroke-linejoin="round"/>
<rect x="1517" y="617.5" width="503.7" height="410" fill="none" stroke="#000" stroke-width="2.2"/>
<line x1="1508" y1="1027.5" x2="1517" y2="1027.5" stroke="#000" stroke-width="2.2" />
<text x="1503" y="1036.8" font-size="27" text-anchor="end">0</text>
<line x1="1512" y1="990.23" x2="1517" y2="990.23" stroke="#000" stroke-width="2.2" />
<line x1="1508" y1="952.95" x2="1517" y2="952.95" stroke="#000" stroke-width="2.2" />
<text x="1503" y="962.25" font-size="27" text-anchor="end">10</text>
<line x1="1512" y1="915.68" x2="1517" y2="915.68" stroke="#000" stroke-width="2.2" />
<line x1="1508" y1="878.41" x2="1517" y2="878.41" stroke="#000" stroke-width="2.2" />
<text x="1503" y="887.71" font-size="27" text-anchor="end">20</text>
<line x1="1512" y1="841.14" x2="1517" y2="841.14" stroke="#000" stroke-width="2.2" />
<line x1="1508" y1="803.86" x2="1517" y2="803.86" stroke="#000" stroke-width="2.2" />
<text x="1503" y="813.16" font-size="27" text-anchor="end">30</text>
<line x1="1512" y1="766.59" x2="1517" y2="766.59" stroke="#000" stroke-width="2.2" />
<line x1="1508" y1="729.32" x2="1517" y2="729.32" stroke="#000" stroke-width="2.2" />
<text x="1503" y="738.62" font-size="27" text-anchor="end">40</text>
<line x1="1512" y1="692.05" x2="1517" y2="692.05" stroke="#000" stroke-width="2.2" />
<line x1="1508" y1="654.77" x2="1517" y2="654.77" stroke="#000" stroke-width="2.2" />
<text x="1503" y="664.07" font-size="27" text-anchor="end">50</text>
<line x1="1512" y1="617.5" x2="1517" y2="617.5" stroke="#000" stroke-width="2.2" />
<line x1="1517" y1="1027.5" x2="1517" y2="1036.5" stroke="#000" stroke-width="2.2" />
<text x="1517" y="1063" font-size="27" text-anchor="middle">300</text>
<line x1="1552.98" y1="1027.5" x2="1552.98" y2="1032.5" stroke="#000" stroke-width="2.2" />
<line x1="1588.96" y1="1027.5" x2="1588.96" y2="1036.5" stroke="#000" stroke-width="2.2" />
<text x="1588.96" y="1063" font-size="27" text-anchor="middle">400</text>
<line x1="1624.94" y1="1027.5" x2="1624.94" y2="1032.5" stroke="#000" stroke-width="2.2" />
<line x1="1660.91" y1="1027.5" x2="1660.91" y2="1036.5" stroke="#000" stroke-width="2.2" />
<text x="1660.91" y="1063" font-size="27" text-anchor="middle">500</text>
<line x1="1696.89" y1="1027.5" x2="1696.89" y2="1032.5" stroke="#000" stroke-width="2.2" />
<line x1="1732.87" y1="1027.5" x2="1732.87" y2="1036.5" stroke="#000" stroke-width="2.2" />
<text x="1732.87" y="1063" font-size="27" text-anchor="middle">600</text>
<line x1="1768.85" y1="1027.5" x2="1768.85" y2="1032.5" stroke="#000" stroke-width="2.2" />
<line x1="1804.83" y1="1027.5" x2="1804.83" y2="1036.5" stroke="#000" stroke-width="2.2" />
<text x="1804.83" y="1063" font-size="27" text-anchor="middle">700</text>
<line x1="1840.81" y1="1027.5" x2="1840.81" y2="1032.5" stroke="#000" stroke-width="2.2" />
<line x1="1876.79" y1="1027.5" x2="1876.79" y2="1036.5" stroke="#000" stroke-width="2.2" />
<text x="1876.79" y="1063" font-size="27" text-anchor="middle">800</text>
<line x1="1912.76" y1="1027.5" x2="1912.76" y2="1032.5" stroke="#000" stroke-width="2.2" />
<line x1="1948.74" y1="1027.5" x2="1948.74" y2="1036.5" stroke="#000" stroke-width="2.2" />
<text x="1948.74" y="1063" font-size="27" text-anchor="middle">900</text>
<line x1="1984.72" y1="1027.5" x2="1984.72" y2="1032.5" stroke="#000" stroke-width="2.2" />
<line x1="2020.7" y1="1027.5" x2="2020.7" y2="1036.5" stroke="#000" stroke-width="2.2" />
<text x="2020.7" y="1063" font-size="27" text-anchor="middle">1000</text>
<text x="1769" y="1098" font-size="35" text-anchor="middle">Wavelength (nm)</text>
<text x="1457" y="812" font-size="35" text-anchor="middle" transform="rotate(-90 1457 812)">Reflection (%)</text>
<rect x="1633.5" y="664" width="196" height="68" fill="#000"/>
<rect x="1627.5" y="658" width="196" height="68" fill="#fff" stroke="#000" stroke-width="1.2"/>
<line x1="1632.5" y1="677.5" x2="1680.5" y2="677.5" stroke="#ffa040" stroke-width="3.4" />
<line x1="1632.5" y1="708" x2="1680.5" y2="708" stroke="#a448ff" stroke-width="2.9" />
<text x="1686.5" y="686" font-size="25">Y6 - as cast</text>
<text x="1686.5" y="716.5" font-size="25">Y6 - TA</text>
<line x1="1986.5" y1="807" x2="1986.5" y2="706" stroke="#000" stroke-width="2.1" />
<path d="M1986.5,692 L1990.7,708 L1982.3,708 Z" fill="#000"/>
<text x="2015" y="831" font-size="24.5" text-anchor="end">Increased</text>
<text x="2014" y="862" font-size="24.5" text-anchor="end">reflection</text>
</g>
<g id="panel-f">
<rect x="1516.7" y="1144.2" width="502.8" height="410.5" fill="#fff" stroke="#000" stroke-width="2.2"/>
<line x1="1507.7" y1="1554.7" x2="1516.7" y2="1554.7" stroke="#000" stroke-width="2.2" />
<text x="1502.7" y="1563.7" font-size="27" text-anchor="end">25</text>
<line x1="1511.7" y1="1520.49" x2="1516.7" y2="1520.49" stroke="#000" stroke-width="2.2" />
<line x1="1507.7" y1="1486.28" x2="1516.7" y2="1486.28" stroke="#000" stroke-width="2.2" />
<text x="1502.7" y="1495.28" font-size="27" text-anchor="end">30</text>
<line x1="1511.7" y1="1452.08" x2="1516.7" y2="1452.08" stroke="#000" stroke-width="2.2" />
<line x1="1507.7" y1="1417.87" x2="1516.7" y2="1417.87" stroke="#000" stroke-width="2.2" />
<text x="1502.7" y="1426.87" font-size="27" text-anchor="end">35</text>
<line x1="1511.7" y1="1383.66" x2="1516.7" y2="1383.66" stroke="#000" stroke-width="2.2" />
<line x1="1507.7" y1="1349.45" x2="1516.7" y2="1349.45" stroke="#000" stroke-width="2.2" />
<text x="1502.7" y="1358.45" font-size="27" text-anchor="end">40</text>
<line x1="1511.7" y1="1315.24" x2="1516.7" y2="1315.24" stroke="#000" stroke-width="2.2" />
<line x1="1507.7" y1="1281.03" x2="1516.7" y2="1281.03" stroke="#000" stroke-width="2.2" />
<text x="1502.7" y="1290.03" font-size="27" text-anchor="end">45</text>
<line x1="1511.7" y1="1246.83" x2="1516.7" y2="1246.83" stroke="#000" stroke-width="2.2" />
<line x1="1507.7" y1="1212.62" x2="1516.7" y2="1212.62" stroke="#000" stroke-width="2.2" />
<text x="1502.7" y="1221.62" font-size="27" text-anchor="end">50</text>
<line x1="1511.7" y1="1178.41" x2="1516.7" y2="1178.41" stroke="#000" stroke-width="2.2" />
<line x1="1507.7" y1="1144.2" x2="1516.7" y2="1144.2" stroke="#000" stroke-width="2.2" />
<text x="1502.7" y="1153.2" font-size="27" text-anchor="end">55</text>
<line x1="1544.63" y1="1554.7" x2="1544.63" y2="1563.7" stroke="#000" stroke-width="2.2" />
<text x="1543.63" y="1589.7" font-size="26.5" text-anchor="middle">-0.8</text>
<line x1="1516.7" y1="1554.7" x2="1516.7" y2="1559.7" stroke="#000" stroke-width="2.2" />
<line x1="1600.5" y1="1554.7" x2="1600.5" y2="1563.7" stroke="#000" stroke-width="2.2" />
<text x="1599.5" y="1589.7" font-size="26.5" text-anchor="middle">-0.6</text>
<line x1="1572.57" y1="1554.7" x2="1572.57" y2="1559.7" stroke="#000" stroke-width="2.2" />
<line x1="1656.37" y1="1554.7" x2="1656.37" y2="1563.7" stroke="#000" stroke-width="2.2" />
<text x="1655.37" y="1589.7" font-size="26.5" text-anchor="middle">-0.4</text>
<line x1="1628.43" y1="1554.7" x2="1628.43" y2="1559.7" stroke="#000" stroke-width="2.2" />
<line x1="1712.23" y1="1554.7" x2="1712.23" y2="1563.7" stroke="#000" stroke-width="2.2" />
<text x="1711.23" y="1589.7" font-size="26.5" text-anchor="middle">-0.2</text>
<line x1="1684.3" y1="1554.7" x2="1684.3" y2="1559.7" stroke="#000" stroke-width="2.2" />
<line x1="1768.1" y1="1554.7" x2="1768.1" y2="1563.7" stroke="#000" stroke-width="2.2" />
<text x="1768.1" y="1589.7" font-size="26.5" text-anchor="middle">0.0</text>
<line x1="1740.17" y1="1554.7" x2="1740.17" y2="1559.7" stroke="#000" stroke-width="2.2" />
<line x1="1823.97" y1="1554.7" x2="1823.97" y2="1563.7" stroke="#000" stroke-width="2.2" />
<text x="1823.97" y="1589.7" font-size="26.5" text-anchor="middle">0.2</text>
<line x1="1796.03" y1="1554.7" x2="1796.03" y2="1559.7" stroke="#000" stroke-width="2.2" />
<line x1="1879.83" y1="1554.7" x2="1879.83" y2="1563.7" stroke="#000" stroke-width="2.2" />
<text x="1879.83" y="1589.7" font-size="26.5" text-anchor="middle">0.4</text>
<line x1="1851.9" y1="1554.7" x2="1851.9" y2="1559.7" stroke="#000" stroke-width="2.2" />
<line x1="1935.7" y1="1554.7" x2="1935.7" y2="1563.7" stroke="#000" stroke-width="2.2" />
<text x="1935.7" y="1589.7" font-size="26.5" text-anchor="middle">0.6</text>
<line x1="1907.77" y1="1554.7" x2="1907.77" y2="1559.7" stroke="#000" stroke-width="2.2" />
<line x1="1991.57" y1="1554.7" x2="1991.57" y2="1563.7" stroke="#000" stroke-width="2.2" />
<text x="1991.57" y="1589.7" font-size="26.5" text-anchor="middle">0.8</text>
<line x1="1963.63" y1="1554.7" x2="1963.63" y2="1559.7" stroke="#000" stroke-width="2.2" />
<line x1="2019.5" y1="1554.7" x2="2019.5" y2="1559.7" stroke="#000" stroke-width="2.2" />
<line x1="1768.1" y1="1144.2" x2="1768.1" y2="1554.7" stroke="#222" stroke-width="2.2" stroke-dasharray="10.6 10.2" stroke-dashoffset="16.3"/>
<text x="1743" y="1626" font-size="37"><tspan font-style="italic">S</tspan><tspan dy="10" font-size="24">2D</tspan></text>
<text x="1454.5" y="1350" font-size="38" text-anchor="middle" transform="rotate(-90 1454.5 1350)">R<tspan dy="10" font-size="24">max</tspan><tspan dy="-10"> (%)</tspan></text>
<line x1="1572.57" y1="1172.93" x2="1604.69" y2="1242.72" stroke="#ff0000" stroke-width="2.2" />
<rect x="1566.87" y="1167.23" width="11.4" height="11.4" fill="#ff0000"/>
<circle cx="1604.69" cy="1242.72" r="6.4" fill="#ff0000"/>
<text x="1594" y="1205" font-size="23.3" fill="#ff0000">Y6</text>
<line x1="1580.95" y1="1269.4" x2="1593.52" y2="1307.03" stroke="#8000ff" stroke-width="2.2" />
<rect x="1575.25" y="1263.7" width="11.4" height="11.4" fill="#8000ff"/>
<circle cx="1593.52" cy="1307.03" r="6.4" fill="#8000ff"/>
<text x="1590" y="1289.5" font-size="23.3" fill="#8000ff">IEICO-4F</text>
<line x1="1667.54" y1="1328.92" x2="1675.92" y2="1346.71" stroke="#0000ff" stroke-width="2.2" />
<rect x="1661.84" y="1323.22" width="11.4" height="11.4" fill="#0000ff"/>
<circle cx="1675.92" cy="1346.71" r="6.4" fill="#0000ff"/>
<text x="1680" y="1341" font-size="23.3" fill="#0000ff">IT-4Cl</text>
<line x1="1641" y1="1401.45" x2="1731.79" y2="1428.81" stroke="#00c000" stroke-width="2.2" />
<rect x="1635.3" y="1395.75" width="11.4" height="11.4" fill="#00c000"/>
<circle cx="1731.79" cy="1428.81" r="6.4" fill="#00c000"/>
<text x="1683" y="1406" font-size="23.3" fill="#00c000">J52</text>
<line x1="1692.68" y1="1441.13" x2="1671.73" y2="1415.13" stroke="#808080" stroke-width="2.2" />
<rect x="1686.98" y="1435.43" width="11.4" height="11.4" fill="#808080"/>
<circle cx="1671.73" cy="1415.13" r="6.4" fill="#808080"/>
<text x="1617" y="1446" font-size="23.3" fill="#808080">FTAZ</text>
<line x1="1846.31" y1="1415.13" x2="1832.35" y2="1434.29" stroke="#ff8000" stroke-width="2.2" />
<rect x="1840.61" y="1409.43" width="11.4" height="11.4" fill="#ff8000"/>
<circle cx="1832.35" cy="1434.29" r="6.4" fill="#ff8000"/>
<text x="1774.5" y="1403" font-size="23.3" fill="#ff8000">PBDB-T</text>
<line x1="1870.06" y1="1438.39" x2="1864.47" y2="1443.87" stroke="#00a0a0" stroke-width="2.2" />
<rect x="1864.36" y="1432.69" width="11.4" height="11.4" fill="#00a0a0"/>
<circle cx="1864.47" cy="1443.87" r="6.4" fill="#00a0a0"/>
<text x="1837" y="1477" font-size="23.3" fill="#00a0a0">PM6</text>
<line x1="1981.79" y1="1486.97" x2="1951.06" y2="1506.12" stroke="#8b0000" stroke-width="2.2" />
<rect x="1976.09" y="1481.27" width="11.4" height="11.4" fill="#8b0000"/>
<circle cx="1951.06" cy="1506.12" r="6.4" fill="#8b0000"/>
<text x="1919" y="1481" font-size="23.3" fill="#8b0000">P3HT</text>
<rect x="1886.5" y="1152" width="17" height="17" fill="#000"/>
<circle cx="1895" cy="1188.5" r="9.3" fill="#000"/>
<text x="1952" y="1168.5" font-size="23.8" text-anchor="middle">TA</text>
<text x="1957.5" y="1196" font-size="23" text-anchor="middle">As cast</text>
<text x="1820" y="1242" font-size="26.7"><tspan font-style="italic">S</tspan><tspan dy="6" font-size="17">2D</tspan><tspan dy="-6"> &gt; 0 edge-on</tspan></text>
<text x="1537" y="1534" font-size="26.7"><tspan font-style="italic">S</tspan><tspan dy="6" font-size="17">2D</tspan><tspan dy="-6"> &lt; 0 face-on</tspan></text>
</g>
<text x="73" y="44" font-size="44" font-weight="bold">a</text>
<text x="1393" y="53" font-size="44" font-weight="bold">b</text>
<text x="73" y="642" font-size="44" font-weight="bold">c</text>
<text x="1393" y="624" font-size="44" font-weight="bold">d</text>
<text x="73" y="1175" font-size="44" font-weight="bold">e</text>
<text x="1407" y="1113" font-size="44" font-weight="bold">f</text>
</svg></body></html>
